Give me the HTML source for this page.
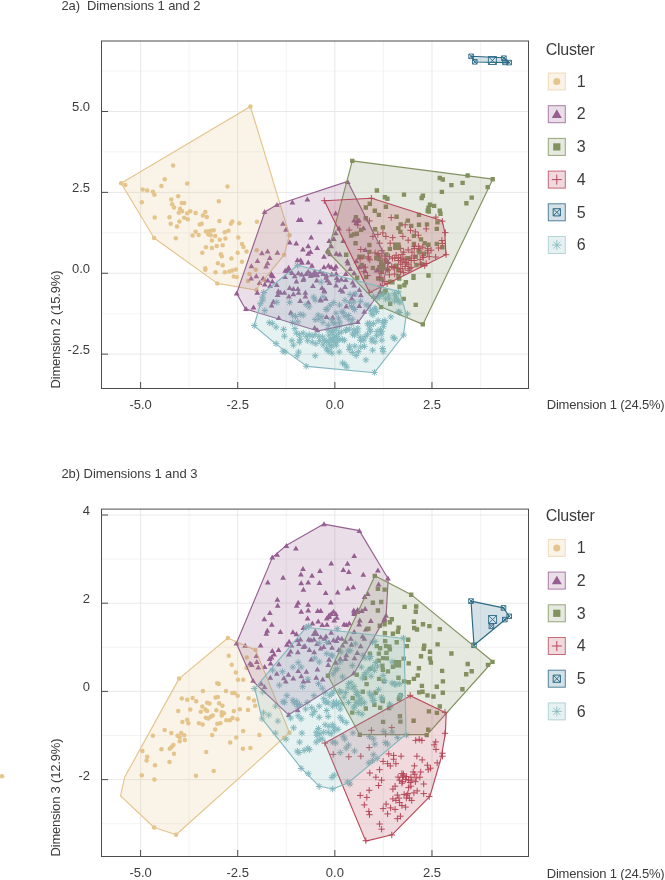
<!DOCTYPE html><html><head><meta charset="utf-8"><title>Clusters</title><style>html,body{margin:0;padding:0;background:#fff}svg{display:block}</style></head><body>
<svg width="665" height="880" viewBox="0 0 665 880">
<style>text{font-family:"Liberation Sans",sans-serif;fill:#3c3c3c}.t13{font-size:13px}.t16{font-size:16px}</style>
<rect width="665" height="880" fill="#fff"/>
<rect x="101.5" y="41.0" width="427.0" height="347.5" fill="#fff"/>
<line x1="189.16" x2="189.16" y1="41.0" y2="388.5" stroke="#f0f0f0" stroke-width="0.8"/>
<line x1="286.29" x2="286.29" y1="41.0" y2="388.5" stroke="#f0f0f0" stroke-width="0.8"/>
<line x1="383.41" x2="383.41" y1="41.0" y2="388.5" stroke="#f0f0f0" stroke-width="0.8"/>
<line x1="480.54" x2="480.54" y1="41.0" y2="388.5" stroke="#f0f0f0" stroke-width="0.8"/>
<line y1="71.06" y2="71.06" x1="101.5" x2="528.5" stroke="#f0f0f0" stroke-width="0.8"/>
<line y1="151.94" y2="151.94" x1="101.5" x2="528.5" stroke="#f0f0f0" stroke-width="0.8"/>
<line y1="232.81" y2="232.81" x1="101.5" x2="528.5" stroke="#f0f0f0" stroke-width="0.8"/>
<line y1="313.69" y2="313.69" x1="101.5" x2="528.5" stroke="#f0f0f0" stroke-width="0.8"/>
<line x1="140.60" x2="140.60" y1="41.0" y2="388.5" stroke="#e8e8e8" stroke-width="1"/>
<line x1="237.73" x2="237.73" y1="41.0" y2="388.5" stroke="#e8e8e8" stroke-width="1"/>
<line x1="334.85" x2="334.85" y1="41.0" y2="388.5" stroke="#e8e8e8" stroke-width="1"/>
<line x1="431.98" x2="431.98" y1="41.0" y2="388.5" stroke="#e8e8e8" stroke-width="1"/>
<line y1="111.50" y2="111.50" x1="101.5" x2="528.5" stroke="#e8e8e8" stroke-width="1"/>
<line y1="192.38" y2="192.38" x1="101.5" x2="528.5" stroke="#e8e8e8" stroke-width="1"/>
<line y1="273.25" y2="273.25" x1="101.5" x2="528.5" stroke="#e8e8e8" stroke-width="1"/>
<line y1="354.12" y2="354.12" x1="101.5" x2="528.5" stroke="#e8e8e8" stroke-width="1"/>
<circle cx="250.4" cy="106.5" r="2.25" fill="#E4C58B"/>
<circle cx="121.1" cy="183.2" r="2.25" fill="#E4C58B"/>
<circle cx="154.1" cy="238.0" r="2.25" fill="#E4C58B"/>
<circle cx="217.3" cy="283.4" r="2.25" fill="#E4C58B"/>
<circle cx="289.5" cy="235.3" r="2.25" fill="#E4C58B"/>
<circle cx="284.1" cy="254.8" r="2.25" fill="#E4C58B"/>
<circle cx="125.3" cy="185.0" r="2.25" fill="#E4C58B"/>
<circle cx="173.1" cy="165.5" r="2.25" fill="#E4C58B"/>
<circle cx="164.7" cy="179.3" r="2.25" fill="#E4C58B"/>
<circle cx="161.4" cy="185.9" r="2.25" fill="#E4C58B"/>
<circle cx="187.2" cy="183.5" r="2.25" fill="#E4C58B"/>
<circle cx="227.5" cy="186.5" r="2.25" fill="#E4C58B"/>
<circle cx="142.7" cy="189.5" r="2.25" fill="#E4C58B"/>
<circle cx="147.2" cy="190.5" r="2.25" fill="#E4C58B"/>
<circle cx="152.9" cy="191.7" r="2.25" fill="#E4C58B"/>
<circle cx="154.4" cy="194.7" r="2.25" fill="#E4C58B"/>
<circle cx="141.8" cy="202.2" r="2.25" fill="#E4C58B"/>
<circle cx="171.3" cy="199.5" r="2.25" fill="#E4C58B"/>
<circle cx="178.2" cy="196.2" r="2.25" fill="#E4C58B"/>
<circle cx="172.2" cy="204.3" r="2.25" fill="#E4C58B"/>
<circle cx="174.0" cy="207.6" r="2.25" fill="#E4C58B"/>
<circle cx="181.8" cy="203.1" r="2.25" fill="#E4C58B"/>
<circle cx="184.2" cy="203.1" r="2.25" fill="#E4C58B"/>
<circle cx="218.8" cy="201.3" r="2.25" fill="#E4C58B"/>
<circle cx="180.0" cy="208.8" r="2.25" fill="#E4C58B"/>
<circle cx="178.8" cy="212.7" r="2.25" fill="#E4C58B"/>
<circle cx="182.1" cy="211.2" r="2.25" fill="#E4C58B"/>
<circle cx="187.2" cy="213.3" r="2.25" fill="#E4C58B"/>
<circle cx="190.2" cy="211.2" r="2.25" fill="#E4C58B"/>
<circle cx="195.6" cy="213.0" r="2.25" fill="#E4C58B"/>
<circle cx="205.3" cy="212.1" r="2.25" fill="#E4C58B"/>
<circle cx="202.9" cy="215.4" r="2.25" fill="#E4C58B"/>
<circle cx="206.8" cy="216.9" r="2.25" fill="#E4C58B"/>
<circle cx="154.7" cy="217.5" r="2.25" fill="#E4C58B"/>
<circle cx="169.5" cy="217.2" r="2.25" fill="#E4C58B"/>
<circle cx="184.2" cy="217.8" r="2.25" fill="#E4C58B"/>
<circle cx="187.8" cy="219.3" r="2.25" fill="#E4C58B"/>
<circle cx="179.4" cy="221.4" r="2.25" fill="#E4C58B"/>
<circle cx="170.7" cy="223.8" r="2.25" fill="#E4C58B"/>
<circle cx="177.0" cy="226.5" r="2.25" fill="#E4C58B"/>
<circle cx="219.4" cy="221.1" r="2.25" fill="#E4C58B"/>
<circle cx="232.3" cy="221.4" r="2.25" fill="#E4C58B"/>
<circle cx="230.8" cy="223.8" r="2.25" fill="#E4C58B"/>
<circle cx="239.2" cy="223.2" r="2.25" fill="#E4C58B"/>
<circle cx="257.0" cy="221.7" r="2.25" fill="#E4C58B"/>
<circle cx="201.7" cy="223.8" r="2.25" fill="#E4C58B"/>
<circle cx="199.8" cy="224.4" r="2.25" fill="#E4C58B"/>
<circle cx="205.9" cy="231.4" r="2.25" fill="#E4C58B"/>
<circle cx="208.3" cy="231.4" r="2.25" fill="#E4C58B"/>
<circle cx="210.7" cy="230.8" r="2.25" fill="#E4C58B"/>
<circle cx="213.7" cy="230.2" r="2.25" fill="#E4C58B"/>
<circle cx="195.6" cy="231.7" r="2.25" fill="#E4C58B"/>
<circle cx="192.6" cy="235.6" r="2.25" fill="#E4C58B"/>
<circle cx="198.6" cy="235.0" r="2.25" fill="#E4C58B"/>
<circle cx="208.3" cy="234.4" r="2.25" fill="#E4C58B"/>
<circle cx="210.7" cy="235.3" r="2.25" fill="#E4C58B"/>
<circle cx="215.2" cy="235.9" r="2.25" fill="#E4C58B"/>
<circle cx="224.8" cy="232.3" r="2.25" fill="#E4C58B"/>
<circle cx="228.4" cy="230.8" r="2.25" fill="#E4C58B"/>
<circle cx="175.8" cy="238.3" r="2.25" fill="#E4C58B"/>
<circle cx="238.3" cy="237.4" r="2.25" fill="#E4C58B"/>
<circle cx="225.4" cy="238.6" r="2.25" fill="#E4C58B"/>
<circle cx="219.7" cy="239.8" r="2.25" fill="#E4C58B"/>
<circle cx="211.9" cy="240.4" r="2.25" fill="#E4C58B"/>
<circle cx="216.7" cy="246.1" r="2.25" fill="#E4C58B"/>
<circle cx="222.7" cy="245.2" r="2.25" fill="#E4C58B"/>
<circle cx="205.9" cy="247.3" r="2.25" fill="#E4C58B"/>
<circle cx="211.9" cy="247.9" r="2.25" fill="#E4C58B"/>
<circle cx="202.3" cy="252.7" r="2.25" fill="#E4C58B"/>
<circle cx="220.9" cy="254.2" r="2.25" fill="#E4C58B"/>
<circle cx="221.8" cy="256.3" r="2.25" fill="#E4C58B"/>
<circle cx="242.0" cy="244.0" r="2.25" fill="#E4C58B"/>
<circle cx="243.5" cy="247.0" r="2.25" fill="#E4C58B"/>
<circle cx="246.5" cy="251.5" r="2.25" fill="#E4C58B"/>
<circle cx="256.7" cy="250.3" r="2.25" fill="#E4C58B"/>
<circle cx="237.7" cy="252.7" r="2.25" fill="#E4C58B"/>
<circle cx="231.4" cy="258.4" r="2.25" fill="#E4C58B"/>
<circle cx="217.9" cy="263.2" r="2.25" fill="#E4C58B"/>
<circle cx="205.3" cy="268.3" r="2.25" fill="#E4C58B"/>
<circle cx="205.3" cy="269.8" r="2.25" fill="#E4C58B"/>
<circle cx="222.7" cy="265.3" r="2.25" fill="#E4C58B"/>
<circle cx="215.5" cy="272.3" r="2.25" fill="#E4C58B"/>
<circle cx="224.8" cy="272.3" r="2.25" fill="#E4C58B"/>
<circle cx="229.3" cy="271.4" r="2.25" fill="#E4C58B"/>
<circle cx="232.3" cy="270.5" r="2.25" fill="#E4C58B"/>
<circle cx="235.9" cy="269.5" r="2.25" fill="#E4C58B"/>
<circle cx="242.0" cy="261.7" r="2.25" fill="#E4C58B"/>
<circle cx="233.8" cy="276.5" r="2.25" fill="#E4C58B"/>
<circle cx="236.8" cy="277.1" r="2.25" fill="#E4C58B"/>
<circle cx="249.5" cy="274.1" r="2.25" fill="#E4C58B"/>
<circle cx="248.0" cy="281.0" r="2.25" fill="#E4C58B"/>
<circle cx="255.8" cy="269.8" r="2.25" fill="#E4C58B"/>
<circle cx="264.2" cy="280.1" r="2.25" fill="#E4C58B"/>
<circle cx="256.4" cy="290.0" r="2.25" fill="#E4C58B"/>
<path d="M261.7,214.0h5.8l-2.9,-5zM274.0,206.9h5.8l-2.9,-5zM289.5,204.4h5.8l-2.9,-5zM304.5,201.6h5.8l-2.9,-5zM280.0,225.7h5.8l-2.9,-5zM295.8,221.9h5.8l-2.9,-5zM298.1,221.9h5.8l-2.9,-5zM316.9,224.2h5.8l-2.9,-5zM283.0,231.7h5.8l-2.9,-5zM308.3,239.5h5.8l-2.9,-5zM286.8,244.5h5.8l-2.9,-5zM293.3,245.6h5.8l-2.9,-5zM305.3,248.3h5.8l-2.9,-5zM300.0,251.6h5.8l-2.9,-5zM314.3,250.1h5.8l-2.9,-5zM259.0,255.3h5.8l-2.9,-5zM264.7,253.5h5.8l-2.9,-5zM274.5,254.7h5.8l-2.9,-5zM307.6,254.0h5.8l-2.9,-5zM305.3,255.8h5.8l-2.9,-5zM321.1,258.8h5.8l-2.9,-5zM266.9,260.0h5.8l-2.9,-5zM254.6,262.9h5.8l-2.9,-5zM264.7,265.3h5.8l-2.9,-5zM263.2,268.6h5.8l-2.9,-5zM248.5,268.3h5.8l-2.9,-5zM294.5,262.3h5.8l-2.9,-5zM297.8,262.3h5.8l-2.9,-5zM299.0,264.8h5.8l-2.9,-5zM305.3,264.4h5.8l-2.9,-5zM309.1,267.8h5.8l-2.9,-5zM285.7,269.8h5.8l-2.9,-5zM282.3,272.8h5.8l-2.9,-5zM286.5,273.1h5.8l-2.9,-5zM295.5,275.3h5.8l-2.9,-5zM291.8,278.3h5.8l-2.9,-5zM268.5,276.1h5.8l-2.9,-5zM270.0,278.3h5.8l-2.9,-5zM260.2,280.6h5.8l-2.9,-5zM253.4,278.3h5.8l-2.9,-5zM248.2,280.6h5.8l-2.9,-5zM300.8,280.6h5.8l-2.9,-5zM305.3,273.8h5.8l-2.9,-5zM307.6,276.1h5.8l-2.9,-5zM311.3,274.6h5.8l-2.9,-5zM314.3,276.8h5.8l-2.9,-5zM317.3,273.8h5.8l-2.9,-5zM320.3,276.1h5.8l-2.9,-5zM323.3,279.8h5.8l-2.9,-5zM325.6,267.8h5.8l-2.9,-5zM321.1,269.3h5.8l-2.9,-5zM326.3,243.0h5.8l-2.9,-5zM324.8,252.8h5.8l-2.9,-5zM344.8,183.9h5.8l-2.9,-5zM332.7,215.5h5.8l-2.9,-5zM351.2,222.4h5.8l-2.9,-5zM354.2,223.0h5.8l-2.9,-5zM356.1,222.4h5.8l-2.9,-5zM353.4,225.0h5.8l-2.9,-5zM360.5,230.2h5.8l-2.9,-5zM336.1,230.5h5.8l-2.9,-5zM332.8,235.2h5.8l-2.9,-5zM340.3,243.0h5.8l-2.9,-5zM330.9,241.0h5.8l-2.9,-5zM328.3,248.3h5.8l-2.9,-5zM333.4,255.8h5.8l-2.9,-5zM336.9,256.5h5.8l-2.9,-5zM362.4,252.0h5.8l-2.9,-5zM344.4,263.3h5.8l-2.9,-5zM345.1,265.6h5.8l-2.9,-5zM328.3,269.3h5.8l-2.9,-5zM333.1,268.6h5.8l-2.9,-5zM331.6,270.8h5.8l-2.9,-5zM328.9,276.5h5.8l-2.9,-5zM342.9,276.1h5.8l-2.9,-5zM351.2,275.3h5.8l-2.9,-5zM353.4,263.3h5.8l-2.9,-5zM375.2,272.3h5.8l-2.9,-5zM385.0,264.1h5.8l-2.9,-5zM356.4,269.3h5.8l-2.9,-5zM347.4,270.9h5.8l-2.9,-5zM333.9,279.9h5.8l-2.9,-5zM338.4,281.4h5.8l-2.9,-5zM342.9,281.9h5.8l-2.9,-5zM349.7,284.4h5.8l-2.9,-5zM351.2,287.4h5.8l-2.9,-5zM333.1,287.4h5.8l-2.9,-5zM342.1,288.9h5.8l-2.9,-5zM337.6,291.9h5.8l-2.9,-5zM356.4,291.9h5.8l-2.9,-5zM351.2,296.5h5.8l-2.9,-5zM357.9,297.2h5.8l-2.9,-5zM348.9,300.5h5.8l-2.9,-5zM343.3,308.5h5.8l-2.9,-5zM356.4,308.0h5.8l-2.9,-5zM361.4,313.8h5.8l-2.9,-5zM329.8,319.8h5.8l-2.9,-5zM354.9,324.0h5.8l-2.9,-5zM360.9,268.6h5.8l-2.9,-5zM362.4,273.2h5.8l-2.9,-5zM373.7,272.4h5.8l-2.9,-5zM327.1,256.3h5.8l-2.9,-5zM243.1,310.9h5.8l-2.9,-5zM250.6,309.4h5.8l-2.9,-5zM275.9,319.9h5.8l-2.9,-5zM287.9,314.7h5.8l-2.9,-5zM314.5,332.3h5.8l-2.9,-5zM311.8,330.0h5.8l-2.9,-5zM323.6,319.0h5.8l-2.9,-5zM268.7,307.4h5.8l-2.9,-5zM270.5,303.7h5.8l-2.9,-5zM274.7,296.9h5.8l-2.9,-5zM275.4,293.2h5.8l-2.9,-5zM277.7,294.7h5.8l-2.9,-5zM281.5,294.7h5.8l-2.9,-5zM254.4,294.7h5.8l-2.9,-5zM261.9,286.4h5.8l-2.9,-5zM264.9,282.6h5.8l-2.9,-5zM269.4,283.4h5.8l-2.9,-5zM268.7,277.4h5.8l-2.9,-5zM267.2,287.9h5.8l-2.9,-5zM286.7,290.1h5.8l-2.9,-5zM290.5,290.9h5.8l-2.9,-5zM295.0,290.9h5.8l-2.9,-5zM295.7,294.7h5.8l-2.9,-5zM290.5,296.2h5.8l-2.9,-5zM286.0,298.4h5.8l-2.9,-5zM293.5,283.4h5.8l-2.9,-5zM300.3,281.9h5.8l-2.9,-5zM302.5,294.7h5.8l-2.9,-5zM302.5,298.4h5.8l-2.9,-5zM297.3,302.9h5.8l-2.9,-5zM305.5,304.4h5.8l-2.9,-5zM310.0,287.9h5.8l-2.9,-5zM313.8,282.6h5.8l-2.9,-5zM319.1,290.1h5.8l-2.9,-5zM321.3,292.4h5.8l-2.9,-5zM324.3,282.6h5.8l-2.9,-5zM326.6,284.9h5.8l-2.9,-5zM317.6,301.4h5.8l-2.9,-5zM322.8,300.7h5.8l-2.9,-5zM289.0,275.1h5.8l-2.9,-5zM298.8,276.6h5.8l-2.9,-5zM303.3,275.9h5.8l-2.9,-5zM307.8,278.1h5.8l-2.9,-5zM323.6,277.4h5.8l-2.9,-5zM333.3,275.9h5.8l-2.9,-5zM334.8,282.6h5.8l-2.9,-5zM284.5,272.9h5.8l-2.9,-5zM282.2,278.9h5.8l-2.9,-5zM273.9,287.1h5.8l-2.9,-5zM256.6,284.9h5.8l-2.9,-5zM317.9,302.6h5.8l-2.9,-5zM339.7,293.6h5.8l-2.9,-5zM321.6,293.6h5.8l-2.9,-5zM377.1,294.1h5.8l-2.9,-5zM233.8,295.5h5.8l-2.9,-5z" fill="#965F91"/>
<path d="M374.7,188.3h4.4v4.4h-4.4zM382.7,195.1h4.4v4.4h-4.4zM385.2,196.6h4.4v4.4h-4.4zM401.8,192.4h4.4v4.4h-4.4zM419.5,195.8h4.4v4.4h-4.4zM420.7,193.6h4.4v4.4h-4.4zM367.6,201.6h4.4v4.4h-4.4zM363.6,205.3h4.4v4.4h-4.4zM383.7,204.6h4.4v4.4h-4.4zM372.6,208.6h4.4v4.4h-4.4zM376.7,212.7h4.4v4.4h-4.4zM426.3,205.6h4.4v4.4h-4.4zM425.5,208.6h4.4v4.4h-4.4zM416.8,212.7h4.4v4.4h-4.4zM353.7,214.9h4.4v4.4h-4.4zM363.6,216.1h4.4v4.4h-4.4zM394.4,214.6h4.4v4.4h-4.4zM405.7,218.4h4.4v4.4h-4.4zM398.5,222.2h4.4v4.4h-4.4zM409.0,223.7h4.4v4.4h-4.4zM416.8,222.5h4.4v4.4h-4.4zM424.8,222.2h4.4v4.4h-4.4zM380.7,225.2h4.4v4.4h-4.4zM396.2,225.9h4.4v4.4h-4.4zM372.9,227.1h4.4v4.4h-4.4zM398.2,229.7h4.4v4.4h-4.4zM348.9,233.4h4.4v4.4h-4.4zM351.9,232.2h4.4v4.4h-4.4zM354.6,231.5h4.4v4.4h-4.4zM358.9,227.7h4.4v4.4h-4.4zM411.7,233.7h4.4v4.4h-4.4zM418.8,237.2h4.4v4.4h-4.4zM353.4,241.0h4.4v4.4h-4.4zM367.2,242.8h4.4v4.4h-4.4zM411.7,241.7h4.4v4.4h-4.4zM422.5,241.0h4.4v4.4h-4.4zM426.3,242.5h4.4v4.4h-4.4zM387.6,246.7h4.4v4.4h-4.4zM416.5,248.5h4.4v4.4h-4.4zM344.0,252.5h4.4v4.4h-4.4zM367.2,249.7h4.4v4.4h-4.4zM421.8,251.5h4.4v4.4h-4.4zM357.1,254.5h4.4v4.4h-4.4zM360.4,254.5h4.4v4.4h-4.4zM413.5,254.5h4.4v4.4h-4.4zM406.0,256.0h4.4v4.4h-4.4zM374.1,256.0h4.4v4.4h-4.4zM378.9,259.8h4.4v4.4h-4.4zM381.2,262.8h4.4v4.4h-4.4zM377.1,265.0h4.4v4.4h-4.4zM370.7,265.8h4.4v4.4h-4.4zM359.7,262.8h4.4v4.4h-4.4zM394.0,263.5h4.4v4.4h-4.4zM396.2,268.0h4.4v4.4h-4.4zM414.3,262.8h4.4v4.4h-4.4zM419.5,262.0h4.4v4.4h-4.4zM383.7,259.0h4.4v4.4h-4.4zM426.3,273.3h4.4v4.4h-4.4zM411.3,274.0h4.4v4.4h-4.4zM379.7,269.5h4.4v4.4h-4.4zM396.2,274.0h4.4v4.4h-4.4zM465.4,173.3h4.4v4.4h-4.4zM490.5,177.0h4.4v4.4h-4.4zM485.5,184.9h4.4v4.4h-4.4zM437.6,175.8h4.4v4.4h-4.4zM440.6,177.3h4.4v4.4h-4.4zM449.2,182.9h4.4v4.4h-4.4zM460.4,180.7h4.4v4.4h-4.4zM439.7,189.7h4.4v4.4h-4.4zM469.5,195.4h4.4v4.4h-4.4zM464.2,201.0h4.4v4.4h-4.4zM427.8,202.5h4.4v4.4h-4.4zM431.9,203.7h4.4v4.4h-4.4zM426.6,209.4h4.4v4.4h-4.4zM437.6,208.6h4.4v4.4h-4.4zM438.3,211.6h4.4v4.4h-4.4zM435.3,220.2h4.4v4.4h-4.4zM434.6,226.7h4.4v4.4h-4.4zM434.6,241.7h4.4v4.4h-4.4zM440.1,245.0h4.4v4.4h-4.4zM376.7,256.8h4.4v4.4h-4.4zM378.9,262.8h4.4v4.4h-4.4zM381.2,265.8h4.4v4.4h-4.4zM375.9,276.4h4.4v4.4h-4.4zM378.9,277.1h4.4v4.4h-4.4zM388.0,279.4h4.4v4.4h-4.4zM390.2,280.1h4.4v4.4h-4.4zM397.0,276.4h4.4v4.4h-4.4zM363.9,274.9h4.4v4.4h-4.4zM354.9,275.6h4.4v4.4h-4.4zM397.4,284.6h4.4v4.4h-4.4zM403.7,280.1h4.4v4.4h-4.4zM402.2,283.1h4.4v4.4h-4.4zM411.3,275.6h4.4v4.4h-4.4zM417.3,250.1h4.4v4.4h-4.4zM383.4,288.4h4.4v4.4h-4.4zM379.7,291.4h4.4v4.4h-4.4zM401.5,296.7h4.4v4.4h-4.4zM388.0,301.5h4.4v4.4h-4.4zM413.5,302.7h4.4v4.4h-4.4zM378.9,304.9h4.4v4.4h-4.4zM420.6,322.2h4.4v4.4h-4.4zM384.2,252.3h4.4v4.4h-4.4zM385.7,267.3h4.4v4.4h-4.4zM375.9,253.1h4.4v4.4h-4.4zM382.5,289.6h4.4v4.4h-4.4zM350.1,158.7h4.4v4.4h-4.4zM325.8,250.0h4.4v4.4h-4.4z" fill="#82925F"/>
<path d="M368.2,198.3h6.4M371.4,195.1v6.4M388.0,217.6h6.4M391.2,214.4v6.4M366.2,220.9h6.4M369.4,217.7v6.4M346.0,230.1h6.4M349.2,226.9v6.4M354.6,225.1h6.4M357.8,221.9v6.4M402.0,224.8h6.4M405.2,221.6v6.4M407.3,230.4h6.4M410.5,227.2v6.4M412.1,231.9h6.4M415.3,228.7v6.4M423.0,228.9h6.4M426.2,225.7v6.4M379.7,232.9h6.4M382.9,229.7v6.4M382.7,236.4h6.4M385.9,233.2v6.4M369.7,236.4h6.4M372.9,233.2v6.4M374.6,234.4h6.4M377.8,231.2v6.4M389.5,237.6h6.4M392.7,234.4v6.4M399.7,236.4h6.4M402.9,233.2v6.4M405.0,240.2h6.4M408.2,237.0v6.4M387.0,243.2h6.4M390.2,240.0v6.4M357.6,249.5h6.4M360.8,246.3v6.4M376.4,243.2h6.4M379.6,240.0v6.4M371.9,252.9h6.4M375.1,249.7v6.4M365.1,258.2h6.4M368.3,255.0v6.4M397.5,248.4h6.4M400.7,245.2v6.4M400.5,252.2h6.4M403.7,249.0v6.4M405.0,249.9h6.4M408.2,246.7v6.4M408.8,252.2h6.4M412.0,249.0v6.4M393.0,255.2h6.4M396.2,252.0v6.4M395.2,257.4h6.4M398.4,254.2v6.4M397.5,258.2h6.4M400.7,255.0v6.4M391.5,258.2h6.4M394.7,255.0v6.4M389.2,258.2h6.4M392.4,255.0v6.4M400.5,259.7h6.4M403.7,256.5v6.4M402.0,262.7h6.4M405.2,259.5v6.4M405.0,264.2h6.4M408.2,261.0v6.4M408.0,258.2h6.4M411.2,255.0v6.4M411.0,260.5h6.4M414.2,257.3v6.4M417.0,259.7h6.4M420.2,256.5v6.4M421.5,265.7h6.4M424.7,262.5v6.4M388.5,266.5h6.4M391.7,263.3v6.4M391.5,268.0h6.4M394.7,264.8v6.4M384.7,270.2h6.4M387.9,267.0v6.4M362.1,267.2h6.4M365.3,264.0v6.4M360.6,271.7h6.4M363.8,268.5v6.4M364.4,275.5h6.4M367.6,272.3v6.4M377.9,273.2h6.4M381.1,270.0v6.4M397.5,264.2h6.4M400.7,261.0v6.4M399.0,268.7h6.4M402.2,265.5v6.4M406.5,268.7h6.4M409.7,265.5v6.4M411.0,248.4h6.4M414.2,245.2v6.4M415.5,246.2h6.4M418.7,243.0v6.4M424.5,250.7h6.4M427.7,247.5v6.4M426.0,256.7h6.4M429.2,253.5v6.4M419.3,255.9h6.4M422.5,252.7v6.4M378.7,250.7h6.4M381.9,247.5v6.4M374.9,253.7h6.4M378.1,250.5v6.4M432.7,217.1h6.4M435.9,213.9v6.4M439.1,221.2h6.4M442.3,218.0v6.4M442.1,232.6h6.4M445.3,229.4v6.4M415.1,235.2h6.4M418.3,232.0v6.4M438.7,240.5h6.4M441.9,237.3v6.4M439.1,243.5h6.4M442.3,240.3v6.4M435.4,248.0h6.4M438.6,244.8v6.4M424.5,248.7h6.4M427.7,245.5v6.4M427.9,250.2h6.4M431.1,247.0v6.4M442.9,254.7h6.4M446.1,251.5v6.4M432.4,257.0h6.4M435.6,253.8v6.4M411.3,246.5h6.4M414.5,243.3v6.4M415.8,248.7h6.4M419.0,245.5v6.4M419.6,247.2h6.4M422.8,244.0v6.4M356.9,259.0h6.4M360.1,255.8v6.4M365.1,256.8h6.4M368.3,253.6v6.4M366.6,259.8h6.4M369.8,256.6v6.4M386.2,256.8h6.4M389.4,253.6v6.4M399.0,254.5h6.4M402.2,251.3v6.4M402.0,259.0h6.4M405.2,255.8v6.4M395.2,260.5h6.4M398.4,257.3v6.4M399.0,262.0h6.4M402.2,258.8v6.4M403.5,262.8h6.4M406.7,259.6v6.4M408.0,260.5h6.4M411.2,257.3v6.4M390.0,267.3h6.4M393.2,264.1v6.4M394.5,268.0h6.4M397.7,264.8v6.4M397.5,271.8h6.4M400.7,268.6v6.4M400.5,272.6h6.4M403.7,269.4v6.4M391.5,274.1h6.4M394.7,270.9v6.4M386.2,274.8h6.4M389.4,271.6v6.4M381.7,281.6h6.4M384.9,278.4v6.4M383.9,283.8h6.4M387.1,280.6v6.4M377.2,286.1h6.4M380.4,282.9v6.4M376.4,277.1h6.4M379.6,273.9v6.4M411.0,256.0h6.4M414.2,252.8v6.4M420.0,257.5h6.4M423.2,254.3v6.4M424.5,253.0h6.4M427.7,249.8v6.4M423.0,263.5h6.4M426.2,260.3v6.4M417.8,264.3h6.4M421.0,261.1v6.4M408.0,267.3h6.4M411.2,264.1v6.4M405.0,270.3h6.4M408.2,267.1v6.4M402.0,266.5h6.4M405.2,263.3v6.4M384.7,262.8h6.4M387.9,259.6v6.4M381.7,259.0h6.4M384.9,255.8v6.4M378.7,256.0h6.4M381.9,252.8v6.4M321.1,200.7h6.4M324.3,197.5v6.4M366.4,292.5h6.4M369.6,289.3v6.4" stroke="#B84759" stroke-width="1" fill="none"/>
<path d="M468.8,54.0h4.6v4.6h-4.6zM468.8,54.0l4.6,4.6M468.8,58.6l4.6,-4.6" stroke="#2A6985" stroke-width="0.9" fill="none"/>
<path d="M472.5,59.5h4.6v4.6h-4.6zM472.5,59.5l4.6,4.6M472.5,64.1l4.6,-4.6" stroke="#2A6985" stroke-width="0.9" fill="none"/>
<path d="M488.4,56.5h8.0v8.0h-8.0zM488.4,56.5l8.0,8.0M488.4,64.5l8.0,-8.0" stroke="#2A6985" stroke-width="0.9" fill="none"/>
<path d="M501.6,55.9h4.6v4.6h-4.6zM501.6,55.9l4.6,4.6M501.6,60.5l4.6,-4.6" stroke="#2A6985" stroke-width="0.9" fill="none"/>
<path d="M502.7,60.1h4.6v4.6h-4.6zM502.7,60.1l4.6,4.6M502.7,64.7l4.6,-4.6" stroke="#2A6985" stroke-width="0.9" fill="none"/>
<path d="M506.9,60.3h4.6v4.6h-4.6zM506.9,60.3l4.6,4.6M506.9,64.9l4.6,-4.6" stroke="#2A6985" stroke-width="0.9" fill="none"/>
<path d="M330.5,302.6h6.6M333.8,299.3v6.6M331.4,300.3l4.7,4.7M331.4,305.0l4.7,-4.7M341.7,300.4h6.6M345.0,297.1v6.6M342.7,298.0l4.7,4.7M342.7,302.7l4.7,-4.7M346.2,302.6h6.6M349.5,299.3v6.6M347.2,300.3l4.7,4.7M347.2,305.0l4.7,-4.7M350.8,301.9h6.6M354.1,298.6v6.6M351.7,299.5l4.7,4.7M351.7,304.2l4.7,-4.7M350.0,307.9h6.6M353.3,304.6v6.6M351.0,305.5l4.7,4.7M351.0,310.2l4.7,-4.7M338.7,311.7h6.6M342.0,308.4v6.6M339.7,309.3l4.7,4.7M339.7,314.0l4.7,-4.7M341.7,316.2h6.6M345.0,312.9v6.6M342.7,313.8l4.7,4.7M342.7,318.5l4.7,-4.7M332.7,313.2h6.6M336.0,309.9v6.6M333.7,310.8l4.7,4.7M333.7,315.5l4.7,-4.7M345.5,319.2h6.6M348.8,315.9v6.6M346.4,316.8l4.7,4.7M346.4,321.5l4.7,-4.7M336.5,322.2h6.6M339.8,318.9v6.6M337.4,319.8l4.7,4.7M337.4,324.5l4.7,-4.7M348.5,323.7h6.6M351.8,320.4v6.6M349.5,321.3l4.7,4.7M349.5,326.0l4.7,-4.7M362.8,304.9h6.6M366.1,301.6v6.6M363.7,302.5l4.7,4.7M363.7,307.2l4.7,-4.7M367.3,310.2h6.6M370.6,306.9v6.6M368.3,307.8l4.7,4.7M368.3,312.5l4.7,-4.7M371.8,307.9h6.6M375.1,304.6v6.6M372.8,305.5l4.7,4.7M372.8,310.2l4.7,-4.7M369.6,314.7h6.6M372.9,311.4v6.6M370.5,312.3l4.7,4.7M370.5,317.0l4.7,-4.7M373.3,311.7h6.6M376.6,308.4v6.6M374.3,309.3l4.7,4.7M374.3,314.0l4.7,-4.7M364.3,323.7h6.6M367.6,320.4v6.6M365.2,321.3l4.7,4.7M365.2,326.0l4.7,-4.7M366.5,325.9h6.6M369.8,322.6v6.6M367.5,323.6l4.7,4.7M367.5,328.3l4.7,-4.7M370.3,323.7h6.6M373.6,320.4v6.6M371.3,321.3l4.7,4.7M371.3,326.0l4.7,-4.7M374.8,320.7h6.6M378.1,317.4v6.6M375.8,318.3l4.7,4.7M375.8,323.0l4.7,-4.7M379.3,322.2h6.6M382.6,318.9v6.6M380.3,319.8l4.7,4.7M380.3,324.5l4.7,-4.7M381.6,320.7h6.6M384.9,317.4v6.6M382.5,318.3l4.7,4.7M382.5,323.0l4.7,-4.7M380.1,326.7h6.6M383.4,323.4v6.6M381.0,324.3l4.7,4.7M381.0,329.0l4.7,-4.7M377.1,329.7h6.6M380.4,326.4v6.6M378.0,327.3l4.7,4.7M378.0,332.0l4.7,-4.7M367.3,331.2h6.6M370.6,327.9v6.6M368.3,328.9l4.7,4.7M368.3,333.6l4.7,-4.7M364.3,334.2h6.6M367.6,330.9v6.6M365.2,331.9l4.7,4.7M365.2,336.6l4.7,-4.7M368.8,338.7h6.6M372.1,335.4v6.6M369.8,336.4l4.7,4.7M369.8,341.1l4.7,-4.7M373.3,335.7h6.6M376.6,332.4v6.6M374.3,333.4l4.7,4.7M374.3,338.1l4.7,-4.7M377.8,334.2h6.6M381.1,330.9v6.6M378.8,331.9l4.7,4.7M378.8,336.6l4.7,-4.7M378.6,340.2h6.6M381.9,336.9v6.6M379.5,337.9l4.7,4.7M379.5,342.6l4.7,-4.7M371.8,341.7h6.6M375.1,338.4v6.6M372.8,339.4l4.7,4.7M372.8,344.1l4.7,-4.7M360.5,340.2h6.6M363.8,336.9v6.6M361.5,337.9l4.7,4.7M361.5,342.6l4.7,-4.7M356.8,337.2h6.6M360.1,333.9v6.6M357.7,334.9l4.7,4.7M357.7,339.6l4.7,-4.7M352.3,332.0h6.6M355.6,328.7v6.6M353.2,329.6l4.7,4.7M353.2,334.3l4.7,-4.7M354.5,328.2h6.6M357.8,324.9v6.6M355.5,325.8l4.7,4.7M355.5,330.5l4.7,-4.7M349.3,334.2h6.6M352.6,330.9v6.6M350.2,331.9l4.7,4.7M350.2,336.6l4.7,-4.7M343.2,329.7h6.6M346.5,326.4v6.6M344.2,327.3l4.7,4.7M344.2,332.0l4.7,-4.7M338.0,332.0h6.6M341.3,328.7v6.6M338.9,329.6l4.7,4.7M338.9,334.3l4.7,-4.7M332.7,328.9h6.6M336.0,325.6v6.6M333.7,326.6l4.7,4.7M333.7,331.3l4.7,-4.7M329.7,334.2h6.6M333.0,330.9v6.6M330.7,331.9l4.7,4.7M330.7,336.6l4.7,-4.7M335.7,338.7h6.6M339.0,335.4v6.6M336.7,336.4l4.7,4.7M336.7,341.1l4.7,-4.7M341.0,340.2h6.6M344.3,336.9v6.6M341.9,337.9l4.7,4.7M341.9,342.6l4.7,-4.7M329.7,341.7h6.6M333.0,338.4v6.6M330.7,339.4l4.7,4.7M330.7,344.1l4.7,-4.7M346.2,346.2h6.6M349.5,342.9v6.6M347.2,343.9l4.7,4.7M347.2,348.6l4.7,-4.7M351.5,346.2h6.6M354.8,342.9v6.6M352.5,343.9l4.7,4.7M352.5,348.6l4.7,-4.7M357.5,347.0h6.6M360.8,343.7v6.6M358.5,344.6l4.7,4.7M358.5,349.3l4.7,-4.7M379.3,348.5h6.6M382.6,345.2v6.6M380.3,346.1l4.7,4.7M380.3,350.8l4.7,-4.7M387.6,316.9h6.6M390.9,313.6v6.6M388.6,314.6l4.7,4.7M388.6,319.3l4.7,-4.7M395.1,311.7h6.6M398.4,308.4v6.6M396.1,309.3l4.7,4.7M396.1,314.0l4.7,-4.7M404.1,313.9h6.6M407.4,310.6v6.6M405.1,311.6l4.7,4.7M405.1,316.3l4.7,-4.7M391.4,301.1h6.6M394.7,297.8v6.6M392.3,298.8l4.7,4.7M392.3,303.5l4.7,-4.7M385.3,295.1h6.6M388.6,291.8v6.6M386.3,292.8l4.7,4.7M386.3,297.5l4.7,-4.7M391.4,293.6h6.6M394.7,290.3v6.6M392.3,291.3l4.7,4.7M392.3,296.0l4.7,-4.7M395.1,292.1h6.6M398.4,288.8v6.6M396.1,289.8l4.7,4.7M396.1,294.5l4.7,-4.7M392.9,298.1h6.6M396.2,294.8v6.6M393.8,295.8l4.7,4.7M393.8,300.5l4.7,-4.7M382.3,298.9h6.6M385.6,295.6v6.6M383.3,296.5l4.7,4.7M383.3,301.2l4.7,-4.7M389.9,337.2h6.6M393.2,333.9v6.6M390.8,334.9l4.7,4.7M390.8,339.6l4.7,-4.7M391.4,338.7h6.6M394.7,335.4v6.6M392.3,336.4l4.7,4.7M392.3,341.1l4.7,-4.7M400.4,335.0h6.6M403.7,331.7v6.6M401.3,332.6l4.7,4.7M401.3,337.3l4.7,-4.7M396.6,302.6h6.6M399.9,299.3v6.6M397.6,300.3l4.7,4.7M397.6,305.0l4.7,-4.7M376.3,296.6h6.6M379.6,293.3v6.6M377.3,294.3l4.7,4.7M377.3,299.0l4.7,-4.7M370.3,296.6h6.6M373.6,293.3v6.6M371.3,294.3l4.7,4.7M371.3,299.0l4.7,-4.7M251.0,325.6h6.6M254.3,322.3v6.6M251.9,323.3l4.7,4.7M251.9,328.0l4.7,-4.7M259.3,297.1h6.6M262.6,293.8v6.6M260.2,294.7l4.7,4.7M260.2,299.4l4.7,-4.7M261.5,310.6h6.6M264.8,307.3v6.6M262.5,308.3l4.7,4.7M262.5,313.0l4.7,-4.7M259.3,300.1h6.6M262.6,296.8v6.6M260.2,297.7l4.7,4.7M260.2,302.4l4.7,-4.7M273.5,302.3h6.6M276.8,299.0v6.6M274.5,300.0l4.7,4.7M274.5,304.7l4.7,-4.7M266.0,322.6h6.6M269.3,319.3v6.6M267.0,320.3l4.7,4.7M267.0,325.0l4.7,-4.7M269.0,323.4h6.6M272.3,320.1v6.6M270.0,321.0l4.7,4.7M270.0,325.7l4.7,-4.7M272.8,327.1h6.6M276.1,323.8v6.6M273.7,324.8l4.7,4.7M273.7,329.5l4.7,-4.7M280.3,329.4h6.6M283.6,326.1v6.6M281.3,327.0l4.7,4.7M281.3,331.7l4.7,-4.7M281.1,336.2h6.6M284.4,332.9v6.6M282.0,333.8l4.7,4.7M282.0,338.5l4.7,-4.7M272.8,343.7h6.6M276.1,340.4v6.6M273.7,341.3l4.7,4.7M273.7,346.0l4.7,-4.7M279.6,351.2h6.6M282.9,347.9v6.6M280.5,348.9l4.7,4.7M280.5,353.6l4.7,-4.7M281.8,352.0h6.6M285.1,348.7v6.6M282.8,349.6l4.7,4.7M282.8,354.3l4.7,-4.7M286.3,302.3h6.6M289.6,299.0v6.6M287.3,300.0l4.7,4.7M287.3,304.7l4.7,-4.7M289.3,315.1h6.6M292.6,311.8v6.6M290.3,312.8l4.7,4.7M290.3,317.5l4.7,-4.7M292.3,316.6h6.6M295.6,313.3v6.6M293.3,314.3l4.7,4.7M293.3,319.0l4.7,-4.7M296.9,314.4h6.6M300.2,311.1v6.6M297.8,312.0l4.7,4.7M297.8,316.7l4.7,-4.7M299.9,315.1h6.6M303.2,311.8v6.6M300.8,312.8l4.7,4.7M300.8,317.5l4.7,-4.7M302.9,304.6h6.6M306.2,301.3v6.6M303.8,302.2l4.7,4.7M303.8,306.9l4.7,-4.7M305.9,306.8h6.6M309.2,303.5v6.6M306.8,304.5l4.7,4.7M306.8,309.2l4.7,-4.7M310.4,297.1h6.6M313.7,293.8v6.6M311.3,294.7l4.7,4.7M311.3,299.4l4.7,-4.7M311.9,300.1h6.6M315.2,296.8v6.6M312.8,297.7l4.7,4.7M312.8,302.4l4.7,-4.7M314.9,315.1h6.6M318.2,311.8v6.6M315.8,312.8l4.7,4.7M315.8,317.5l4.7,-4.7M311.9,319.6h6.6M315.2,316.3v6.6M312.8,317.3l4.7,4.7M312.8,322.0l4.7,-4.7M315.6,318.9h6.6M318.9,315.6v6.6M316.6,316.5l4.7,4.7M316.6,321.2l4.7,-4.7M318.7,316.6h6.6M322.0,313.3v6.6M319.6,314.3l4.7,4.7M319.6,319.0l4.7,-4.7M323.9,309.1h6.6M327.2,305.8v6.6M324.9,306.7l4.7,4.7M324.9,311.4l4.7,-4.7M326.9,305.3h6.6M330.2,302.0v6.6M327.9,303.0l4.7,4.7M327.9,307.7l4.7,-4.7M335.2,318.1h6.6M338.5,314.8v6.6M336.1,315.8l4.7,4.7M336.1,320.5l4.7,-4.7M329.9,322.6h6.6M333.2,319.3v6.6M330.9,320.3l4.7,4.7M330.9,325.0l4.7,-4.7M294.6,321.9h6.6M297.9,318.6v6.6M295.5,319.5l4.7,4.7M295.5,324.2l4.7,-4.7M291.6,328.6h6.6M294.9,325.3v6.6M292.5,326.3l4.7,4.7M292.5,331.0l4.7,-4.7M293.1,333.2h6.6M296.4,329.9v6.6M294.0,330.8l4.7,4.7M294.0,335.5l4.7,-4.7M296.1,334.7h6.6M299.4,331.4v6.6M297.0,332.3l4.7,4.7M297.0,337.0l4.7,-4.7M299.9,333.2h6.6M303.2,329.9v6.6M300.8,330.8l4.7,4.7M300.8,335.5l4.7,-4.7M296.9,339.2h6.6M300.2,335.9v6.6M297.8,336.8l4.7,4.7M297.8,341.5l4.7,-4.7M288.6,340.7h6.6M291.9,337.4v6.6M289.5,338.3l4.7,4.7M289.5,343.0l4.7,-4.7M290.1,345.2h6.6M293.4,341.9v6.6M291.0,342.8l4.7,4.7M291.0,347.5l4.7,-4.7M296.1,342.2h6.6M299.4,338.9v6.6M297.0,339.8l4.7,4.7M297.0,344.5l4.7,-4.7M302.9,336.2h6.6M306.2,332.9v6.6M303.8,333.8l4.7,4.7M303.8,338.5l4.7,-4.7M305.9,334.7h6.6M309.2,331.4v6.6M306.8,332.3l4.7,4.7M306.8,337.0l4.7,-4.7M308.9,336.2h6.6M312.2,332.9v6.6M309.8,333.8l4.7,4.7M309.8,338.5l4.7,-4.7M311.9,334.7h6.6M315.2,331.4v6.6M312.8,332.3l4.7,4.7M312.8,337.0l4.7,-4.7M315.6,336.2h6.6M318.9,332.9v6.6M316.6,333.8l4.7,4.7M316.6,338.5l4.7,-4.7M319.4,336.9h6.6M322.7,333.6v6.6M320.4,334.6l4.7,4.7M320.4,339.3l4.7,-4.7M304.4,340.7h6.6M307.7,337.4v6.6M305.3,338.3l4.7,4.7M305.3,343.0l4.7,-4.7M308.9,342.2h6.6M312.2,338.9v6.6M309.8,339.8l4.7,4.7M309.8,344.5l4.7,-4.7M312.6,343.7h6.6M315.9,340.4v6.6M313.6,341.3l4.7,4.7M313.6,346.0l4.7,-4.7M316.4,340.7h6.6M319.7,337.4v6.6M317.3,338.3l4.7,4.7M317.3,343.0l4.7,-4.7M320.9,340.7h6.6M324.2,337.4v6.6M321.9,338.3l4.7,4.7M321.9,343.0l4.7,-4.7M324.7,342.2h6.6M328.0,338.9v6.6M325.6,339.8l4.7,4.7M325.6,344.5l4.7,-4.7M326.9,339.2h6.6M330.2,335.9v6.6M327.9,336.8l4.7,4.7M327.9,341.5l4.7,-4.7M330.7,337.7h6.6M334.0,334.4v6.6M331.6,335.3l4.7,4.7M331.6,340.0l4.7,-4.7M334.4,340.7h6.6M337.7,337.4v6.6M335.4,338.3l4.7,4.7M335.4,343.0l4.7,-4.7M332.9,345.2h6.6M336.2,341.9v6.6M333.9,342.8l4.7,4.7M333.9,347.5l4.7,-4.7M328.4,346.7h6.6M331.7,343.4v6.6M329.4,344.3l4.7,4.7M329.4,349.0l4.7,-4.7M323.2,348.2h6.6M326.5,344.9v6.6M324.1,345.8l4.7,4.7M324.1,350.5l4.7,-4.7M325.4,351.2h6.6M328.7,347.9v6.6M326.4,348.9l4.7,4.7M326.4,353.6l4.7,-4.7M311.9,355.7h6.6M315.2,352.4v6.6M312.8,353.4l4.7,4.7M312.8,358.1l4.7,-4.7M295.3,352.0h6.6M298.6,348.7v6.6M296.3,349.6l4.7,4.7M296.3,354.3l4.7,-4.7M293.8,355.7h6.6M297.1,352.4v6.6M294.8,353.4l4.7,4.7M294.8,358.1l4.7,-4.7M302.9,366.2h6.6M306.2,362.9v6.6M303.8,363.9l4.7,4.7M303.8,368.6l4.7,-4.7M317.9,282.0h6.6M321.2,278.7v6.6M318.9,279.7l4.7,4.7M318.9,284.4l4.7,-4.7M257.0,303.8h6.6M260.3,300.5v6.6M258.0,301.5l4.7,4.7M258.0,306.2l4.7,-4.7M335.9,352.0h6.6M339.2,348.7v6.6M336.9,349.6l4.7,4.7M336.9,354.3l4.7,-4.7M335.2,333.2h6.6M338.5,329.9v6.6M336.1,330.8l4.7,4.7M336.1,335.5l4.7,-4.7M327.7,330.9h6.6M331.0,327.6v6.6M328.6,328.6l4.7,4.7M328.6,333.3l4.7,-4.7M324.7,330.2h6.6M328.0,326.9v6.6M325.6,327.8l4.7,4.7M325.6,332.5l4.7,-4.7M289.3,322.6h6.6M292.6,319.3v6.6M290.3,320.3l4.7,4.7M290.3,325.0l4.7,-4.7M371.1,372.4h6.6M374.4,369.1v6.6M372.1,370.1l4.7,4.7M372.1,374.8l4.7,-4.7M381.4,322.3h6.6M384.7,319.0v6.6M382.3,320.0l4.7,4.7M382.3,324.7l4.7,-4.7M378.4,331.4h6.6M381.7,328.1v6.6M379.3,329.0l4.7,4.7M379.3,333.7l4.7,-4.7M373.8,331.4h6.6M377.1,328.1v6.6M374.8,329.0l4.7,4.7M374.8,333.7l4.7,-4.7M366.3,323.1h6.6M369.6,319.8v6.6M367.3,320.7l4.7,4.7M367.3,325.4l4.7,-4.7M366.3,329.1h6.6M369.6,325.8v6.6M367.3,326.7l4.7,4.7M367.3,331.4l4.7,-4.7M368.6,341.1h6.6M371.9,337.8v6.6M369.5,338.8l4.7,4.7M369.5,343.5l4.7,-4.7M361.8,336.6h6.6M365.1,333.3v6.6M362.8,334.3l4.7,4.7M362.8,339.0l4.7,-4.7M357.3,340.4h6.6M360.6,337.1v6.6M358.3,338.0l4.7,4.7M358.3,342.7l4.7,-4.7M354.3,332.1h6.6M357.6,328.8v6.6M355.2,329.8l4.7,4.7M355.2,334.5l4.7,-4.7M350.5,329.8h6.6M353.8,326.5v6.6M351.5,327.5l4.7,4.7M351.5,332.2l4.7,-4.7M351.3,335.1h6.6M354.6,331.8v6.6M352.2,332.8l4.7,4.7M352.2,337.5l4.7,-4.7M361.1,346.4h6.6M364.4,343.1v6.6M362.0,344.0l4.7,4.7M362.0,348.7l4.7,-4.7M369.3,350.2h6.6M372.6,346.9v6.6M370.3,347.8l4.7,4.7M370.3,352.5l4.7,-4.7M379.9,351.7h6.6M383.2,348.4v6.6M380.8,349.3l4.7,4.7M380.8,354.0l4.7,-4.7M355.0,351.7h6.6M358.3,348.4v6.6M356.0,349.3l4.7,4.7M356.0,354.0l4.7,-4.7M352.8,355.4h6.6M356.1,352.1v6.6M353.7,353.1l4.7,4.7M353.7,357.8l4.7,-4.7M349.0,352.4h6.6M352.3,349.1v6.6M350.0,350.1l4.7,4.7M350.0,354.8l4.7,-4.7M346.0,349.4h6.6M349.3,346.1v6.6M347.0,347.0l4.7,4.7M347.0,351.7l4.7,-4.7M339.3,362.9h6.6M342.6,359.6v6.6M340.2,360.6l4.7,4.7M340.2,365.3l4.7,-4.7M341.5,364.4h6.6M344.8,361.1v6.6M342.5,362.1l4.7,4.7M342.5,366.8l4.7,-4.7M343.5,367.0h6.6M346.8,363.7v6.6M344.4,364.6l4.7,4.7M344.4,369.3l4.7,-4.7M362.6,359.9h6.6M365.9,356.6v6.6M363.5,357.6l4.7,4.7M363.5,362.3l4.7,-4.7M328.7,353.2h6.6M332.0,349.9v6.6M329.7,350.8l4.7,4.7M329.7,355.5l4.7,-4.7M324.2,350.2h6.6M327.5,346.9v6.6M325.2,347.8l4.7,4.7M325.2,352.5l4.7,-4.7M326.5,344.9h6.6M329.8,341.6v6.6M327.4,342.5l4.7,4.7M327.4,347.2l4.7,-4.7M322.7,341.1h6.6M326.0,337.8v6.6M323.7,338.8l4.7,4.7M323.7,343.5l4.7,-4.7M328.7,339.6h6.6M332.0,336.3v6.6M329.7,337.3l4.7,4.7M329.7,342.0l4.7,-4.7M319.7,344.9h6.6M323.0,341.6v6.6M320.7,342.5l4.7,4.7M320.7,347.2l4.7,-4.7M331.7,342.6h6.6M335.0,339.3v6.6M332.7,340.3l4.7,4.7M332.7,345.0l4.7,-4.7M333.2,336.6h6.6M336.5,333.3v6.6M334.2,334.3l4.7,4.7M334.2,339.0l4.7,-4.7M339.3,339.6h6.6M342.6,336.3v6.6M340.2,337.3l4.7,4.7M340.2,342.0l4.7,-4.7M325.7,335.1h6.6M329.0,331.8v6.6M326.7,332.8l4.7,4.7M326.7,337.5l4.7,-4.7M330.2,330.6h6.6M333.5,327.3v6.6M331.2,328.3l4.7,4.7M331.2,333.0l4.7,-4.7M342.3,330.6h6.6M345.6,327.3v6.6M343.2,328.3l4.7,4.7M343.2,333.0l4.7,-4.7M346.0,329.1h6.6M349.3,325.8v6.6M347.0,326.7l4.7,4.7M347.0,331.4l4.7,-4.7M336.2,326.1h6.6M339.5,322.8v6.6M337.2,323.7l4.7,4.7M337.2,328.4l4.7,-4.7M331.7,323.8h6.6M335.0,320.5v6.6M332.7,321.5l4.7,4.7M332.7,326.2l4.7,-4.7M325.0,325.3h6.6M328.3,322.0v6.6M325.9,323.0l4.7,4.7M325.9,327.7l4.7,-4.7M319.7,322.3h6.6M323.0,319.0v6.6M320.7,320.0l4.7,4.7M320.7,324.7l4.7,-4.7M328.0,319.3h6.6M331.3,316.0v6.6M328.9,317.0l4.7,4.7M328.9,321.7l4.7,-4.7M340.0,312.6h6.6M343.3,309.3v6.6M341.0,310.2l4.7,4.7M341.0,314.9l4.7,-4.7M345.3,315.6h6.6M348.6,312.3v6.6M346.2,313.2l4.7,4.7M346.2,317.9l4.7,-4.7M349.0,319.3h6.6M352.3,316.0v6.6M350.0,317.0l4.7,4.7M350.0,321.7l4.7,-4.7M322.7,309.5h6.6M326.0,306.2v6.6M323.7,307.2l4.7,4.7M323.7,311.9l4.7,-4.7M336.2,305.0h6.6M339.5,301.7v6.6M337.2,302.7l4.7,4.7M337.2,307.4l4.7,-4.7M348.3,306.5h6.6M351.6,303.2v6.6M349.2,304.2l4.7,4.7M349.2,308.9l4.7,-4.7M351.3,309.5h6.6M354.6,306.2v6.6M352.2,307.2l4.7,4.7M352.2,311.9l4.7,-4.7M357.3,301.3h6.6M360.6,298.0v6.6M358.3,298.9l4.7,4.7M358.3,303.6l4.7,-4.7M368.6,313.3h6.6M371.9,310.0v6.6M369.5,311.0l4.7,4.7M369.5,315.7l4.7,-4.7M371.6,309.5h6.6M374.9,306.2v6.6M372.5,307.2l4.7,4.7M372.5,311.9l4.7,-4.7M365.6,305.8h6.6M368.9,302.5v6.6M366.5,303.4l4.7,4.7M366.5,308.1l4.7,-4.7M385.9,299.0h6.6M389.2,295.7v6.6M386.8,296.7l4.7,4.7M386.8,301.4l4.7,-4.7M391.9,296.0h6.6M395.2,292.7v6.6M392.8,293.7l4.7,4.7M392.8,298.4l4.7,-4.7M394.9,300.5h6.6M398.2,297.2v6.6M395.8,298.2l4.7,4.7M395.8,302.9l4.7,-4.7M396.4,312.6h6.6M399.7,309.3v6.6M397.3,310.2l4.7,4.7M397.3,314.9l4.7,-4.7M379.9,294.5h6.6M383.2,291.2v6.6M380.8,292.2l4.7,4.7M380.8,296.9l4.7,-4.7M373.8,298.3h6.6M377.1,295.0v6.6M374.8,295.9l4.7,4.7M374.8,300.6l4.7,-4.7M319.7,296.8h6.6M323.0,293.5v6.6M320.7,294.4l4.7,4.7M320.7,299.1l4.7,-4.7M346.8,294.5h6.6M350.1,291.2v6.6M347.7,292.2l4.7,4.7M347.7,296.9l4.7,-4.7M352.0,293.8h6.6M355.3,290.5v6.6M353.0,291.4l4.7,4.7M353.0,296.1l4.7,-4.7M294.2,265.3h6.6M297.5,262.0v6.6M295.1,262.9l4.7,4.7M295.1,267.7l4.7,-4.7M260.5,292.5h6.6M263.8,289.2v6.6M261.4,290.1l4.7,4.7M261.4,294.9l4.7,-4.7" stroke="#82B8BE" stroke-width="1.0" fill="none"/>
<path d="M310.8,277.2h8.8l-4.4,-7.6z" fill="#965F91"/>
<rect x="393.1" y="242.4" width="7.6" height="7.6" fill="#82925F"/>
<polygon points="250.4,106.5 289.5,235.2 284.2,254.8 255.5,290.0 217.3,283.4 154.1,238.0 121.1,183.2" fill="#E4C58B" fill-opacity="0.2" stroke="#E4C58B" stroke-width="1.15" stroke-linejoin="round"/>
<polygon points="347.7,181.4 388.6,262.9 380.0,292.0 357.9,322.6 317.9,331.0 245.2,308.8 236.7,293.4 264.7,212.1 277.0,204.7" fill="#965F91" fill-opacity="0.2" stroke="#965F91" stroke-width="1.15" stroke-linejoin="round"/>
<polygon points="352.3,160.9 492.9,179.1 422.9,324.4 381.4,307.0 328.0,252.2" fill="#82925F" fill-opacity="0.2" stroke="#82925F" stroke-width="1.15" stroke-linejoin="round"/>
<polygon points="324.3,200.7 371.7,198.3 442.2,220.8 444.8,232.2 445.9,254.8 369.6,292.5" fill="#B84759" fill-opacity="0.2" stroke="#B84759" stroke-width="1.15" stroke-linejoin="round"/>
<polygon points="471.1,56.3 503.9,57.8 509.5,62.6 474.8,62.0" fill="#2A6985" fill-opacity="0.2" stroke="#2A6985" stroke-width="1.15" stroke-linejoin="round"/>
<polygon points="297.5,265.3 399.4,291.6 406.3,314.2 403.4,335.5 374.2,372.8 307.1,366.4 276.5,344.6 254.0,325.8 263.8,292.5" fill="#82B8BE" fill-opacity="0.2" stroke="#82B8BE" stroke-width="1.15" stroke-linejoin="round"/>
<rect x="101.5" y="41.0" width="427.0" height="347.5" fill="none" stroke="#4d4d4d" stroke-width="1"/>
<line x1="140.60" x2="140.60" y1="382.0" y2="388.5" stroke="#4d4d4d" stroke-width="1"/>
<text x="140.60" y="408.8" text-anchor="middle" class="t13">-5.0</text>
<line x1="237.73" x2="237.73" y1="382.0" y2="388.5" stroke="#4d4d4d" stroke-width="1"/>
<text x="237.73" y="408.8" text-anchor="middle" class="t13">-2.5</text>
<line x1="334.85" x2="334.85" y1="382.0" y2="388.5" stroke="#4d4d4d" stroke-width="1"/>
<text x="334.85" y="408.8" text-anchor="middle" class="t13">0.0</text>
<line x1="431.98" x2="431.98" y1="382.0" y2="388.5" stroke="#4d4d4d" stroke-width="1"/>
<text x="431.98" y="408.8" text-anchor="middle" class="t13">2.5</text>
<line y1="111.50" y2="111.50" x1="101.5" x2="108.0" stroke="#4d4d4d" stroke-width="1"/>
<text x="90" y="111.4" text-anchor="end" class="t13">5.0</text>
<line y1="192.38" y2="192.38" x1="101.5" x2="108.0" stroke="#4d4d4d" stroke-width="1"/>
<text x="90" y="192.3" text-anchor="end" class="t13">2.5</text>
<line y1="273.25" y2="273.25" x1="101.5" x2="108.0" stroke="#4d4d4d" stroke-width="1"/>
<text x="90" y="273.1" text-anchor="end" class="t13">0.0</text>
<line y1="354.12" y2="354.12" x1="101.5" x2="108.0" stroke="#4d4d4d" stroke-width="1"/>
<text x="90" y="354.0" text-anchor="end" class="t13">-2.5</text>
<rect x="101.5" y="509.1" width="427.0" height="347.4" fill="#fff"/>
<line x1="189.16" x2="189.16" y1="509.1" y2="856.5" stroke="#f0f0f0" stroke-width="0.8"/>
<line x1="286.29" x2="286.29" y1="509.1" y2="856.5" stroke="#f0f0f0" stroke-width="0.8"/>
<line x1="383.41" x2="383.41" y1="509.1" y2="856.5" stroke="#f0f0f0" stroke-width="0.8"/>
<line x1="480.54" x2="480.54" y1="509.1" y2="856.5" stroke="#f0f0f0" stroke-width="0.8"/>
<line y1="559.10" y2="559.10" x1="101.5" x2="528.5" stroke="#f0f0f0" stroke-width="0.8"/>
<line y1="647.30" y2="647.30" x1="101.5" x2="528.5" stroke="#f0f0f0" stroke-width="0.8"/>
<line y1="735.50" y2="735.50" x1="101.5" x2="528.5" stroke="#f0f0f0" stroke-width="0.8"/>
<line y1="823.70" y2="823.70" x1="101.5" x2="528.5" stroke="#f0f0f0" stroke-width="0.8"/>
<line x1="140.60" x2="140.60" y1="509.1" y2="856.5" stroke="#e8e8e8" stroke-width="1"/>
<line x1="237.73" x2="237.73" y1="509.1" y2="856.5" stroke="#e8e8e8" stroke-width="1"/>
<line x1="334.85" x2="334.85" y1="509.1" y2="856.5" stroke="#e8e8e8" stroke-width="1"/>
<line x1="431.98" x2="431.98" y1="509.1" y2="856.5" stroke="#e8e8e8" stroke-width="1"/>
<line y1="515.00" y2="515.00" x1="101.5" x2="528.5" stroke="#e8e8e8" stroke-width="1"/>
<line y1="603.20" y2="603.20" x1="101.5" x2="528.5" stroke="#e8e8e8" stroke-width="1"/>
<line y1="691.40" y2="691.40" x1="101.5" x2="528.5" stroke="#e8e8e8" stroke-width="1"/>
<line y1="779.60" y2="779.60" x1="101.5" x2="528.5" stroke="#e8e8e8" stroke-width="1"/>
<circle cx="227.8" cy="638.0" r="2.25" fill="#E4C58B"/>
<circle cx="255.5" cy="650.1" r="2.25" fill="#E4C58B"/>
<circle cx="228.7" cy="655.8" r="2.25" fill="#E4C58B"/>
<circle cx="231.7" cy="664.8" r="2.25" fill="#E4C58B"/>
<circle cx="235.9" cy="672.6" r="2.25" fill="#E4C58B"/>
<circle cx="238.0" cy="679.8" r="2.25" fill="#E4C58B"/>
<circle cx="243.2" cy="679.8" r="2.25" fill="#E4C58B"/>
<circle cx="246.8" cy="657.6" r="2.25" fill="#E4C58B"/>
<circle cx="246.5" cy="668.1" r="2.25" fill="#E4C58B"/>
<circle cx="179.1" cy="678.6" r="2.25" fill="#E4C58B"/>
<circle cx="217.3" cy="683.2" r="2.25" fill="#E4C58B"/>
<circle cx="218.8" cy="684.1" r="2.25" fill="#E4C58B"/>
<circle cx="202.9" cy="691.0" r="2.25" fill="#E4C58B"/>
<circle cx="226.0" cy="691.0" r="2.25" fill="#E4C58B"/>
<circle cx="232.3" cy="693.1" r="2.25" fill="#E4C58B"/>
<circle cx="234.7" cy="693.1" r="2.25" fill="#E4C58B"/>
<circle cx="237.7" cy="695.8" r="2.25" fill="#E4C58B"/>
<circle cx="181.8" cy="698.5" r="2.25" fill="#E4C58B"/>
<circle cx="187.2" cy="699.7" r="2.25" fill="#E4C58B"/>
<circle cx="192.6" cy="697.9" r="2.25" fill="#E4C58B"/>
<circle cx="196.2" cy="701.2" r="2.25" fill="#E4C58B"/>
<circle cx="215.5" cy="697.6" r="2.25" fill="#E4C58B"/>
<circle cx="217.9" cy="697.0" r="2.25" fill="#E4C58B"/>
<circle cx="207.1" cy="702.7" r="2.25" fill="#E4C58B"/>
<circle cx="209.5" cy="703.6" r="2.25" fill="#E4C58B"/>
<circle cx="219.1" cy="703.3" r="2.25" fill="#E4C58B"/>
<circle cx="222.4" cy="705.7" r="2.25" fill="#E4C58B"/>
<circle cx="202.3" cy="706.6" r="2.25" fill="#E4C58B"/>
<circle cx="190.2" cy="709.6" r="2.25" fill="#E4C58B"/>
<circle cx="178.2" cy="711.1" r="2.25" fill="#E4C58B"/>
<circle cx="200.8" cy="711.7" r="2.25" fill="#E4C58B"/>
<circle cx="205.3" cy="709.6" r="2.25" fill="#E4C58B"/>
<circle cx="207.1" cy="711.1" r="2.25" fill="#E4C58B"/>
<circle cx="216.4" cy="710.2" r="2.25" fill="#E4C58B"/>
<circle cx="221.8" cy="712.3" r="2.25" fill="#E4C58B"/>
<circle cx="223.9" cy="713.2" r="2.25" fill="#E4C58B"/>
<circle cx="233.8" cy="711.1" r="2.25" fill="#E4C58B"/>
<circle cx="239.8" cy="709.3" r="2.25" fill="#E4C58B"/>
<circle cx="248.0" cy="709.9" r="2.25" fill="#E4C58B"/>
<circle cx="248.6" cy="698.2" r="2.25" fill="#E4C58B"/>
<circle cx="254.0" cy="700.6" r="2.25" fill="#E4C58B"/>
<circle cx="255.2" cy="705.7" r="2.25" fill="#E4C58B"/>
<circle cx="205.9" cy="717.7" r="2.25" fill="#E4C58B"/>
<circle cx="208.3" cy="718.6" r="2.25" fill="#E4C58B"/>
<circle cx="210.7" cy="716.8" r="2.25" fill="#E4C58B"/>
<circle cx="212.8" cy="715.6" r="2.25" fill="#E4C58B"/>
<circle cx="221.8" cy="715.6" r="2.25" fill="#E4C58B"/>
<circle cx="187.2" cy="719.8" r="2.25" fill="#E4C58B"/>
<circle cx="188.4" cy="723.2" r="2.25" fill="#E4C58B"/>
<circle cx="182.4" cy="722.0" r="2.25" fill="#E4C58B"/>
<circle cx="198.9" cy="723.2" r="2.25" fill="#E4C58B"/>
<circle cx="202.6" cy="724.4" r="2.25" fill="#E4C58B"/>
<circle cx="217.3" cy="723.8" r="2.25" fill="#E4C58B"/>
<circle cx="220.3" cy="723.2" r="2.25" fill="#E4C58B"/>
<circle cx="226.3" cy="720.2" r="2.25" fill="#E4C58B"/>
<circle cx="229.9" cy="720.2" r="2.25" fill="#E4C58B"/>
<circle cx="232.6" cy="718.0" r="2.25" fill="#E4C58B"/>
<circle cx="237.4" cy="719.2" r="2.25" fill="#E4C58B"/>
<circle cx="215.2" cy="729.5" r="2.25" fill="#E4C58B"/>
<circle cx="212.2" cy="734.9" r="2.25" fill="#E4C58B"/>
<circle cx="164.7" cy="730.1" r="2.25" fill="#E4C58B"/>
<circle cx="171.3" cy="733.1" r="2.25" fill="#E4C58B"/>
<circle cx="152.9" cy="735.8" r="2.25" fill="#E4C58B"/>
<circle cx="177.6" cy="735.8" r="2.25" fill="#E4C58B"/>
<circle cx="179.7" cy="737.3" r="2.25" fill="#E4C58B"/>
<circle cx="181.2" cy="733.1" r="2.25" fill="#E4C58B"/>
<circle cx="184.2" cy="735.2" r="2.25" fill="#E4C58B"/>
<circle cx="184.8" cy="740.0" r="2.25" fill="#E4C58B"/>
<circle cx="179.7" cy="741.2" r="2.25" fill="#E4C58B"/>
<circle cx="243.2" cy="731.0" r="2.25" fill="#E4C58B"/>
<circle cx="259.4" cy="734.9" r="2.25" fill="#E4C58B"/>
<circle cx="236.2" cy="737.6" r="2.25" fill="#E4C58B"/>
<circle cx="230.2" cy="742.4" r="2.25" fill="#E4C58B"/>
<circle cx="173.4" cy="745.1" r="2.25" fill="#E4C58B"/>
<circle cx="171.6" cy="746.9" r="2.25" fill="#E4C58B"/>
<circle cx="169.8" cy="748.7" r="2.25" fill="#E4C58B"/>
<circle cx="161.4" cy="749.3" r="2.25" fill="#E4C58B"/>
<circle cx="174.0" cy="753.8" r="2.25" fill="#E4C58B"/>
<circle cx="206.2" cy="752.0" r="2.25" fill="#E4C58B"/>
<circle cx="242.9" cy="748.7" r="2.25" fill="#E4C58B"/>
<circle cx="250.4" cy="748.1" r="2.25" fill="#E4C58B"/>
<circle cx="142.4" cy="751.1" r="2.25" fill="#E4C58B"/>
<circle cx="147.2" cy="756.8" r="2.25" fill="#E4C58B"/>
<circle cx="146.6" cy="760.5" r="2.25" fill="#E4C58B"/>
<circle cx="169.5" cy="762.0" r="2.25" fill="#E4C58B"/>
<circle cx="155.0" cy="765.3" r="2.25" fill="#E4C58B"/>
<circle cx="213.7" cy="771.0" r="2.25" fill="#E4C58B"/>
<circle cx="141.8" cy="775.2" r="2.25" fill="#E4C58B"/>
<circle cx="154.4" cy="779.4" r="2.25" fill="#E4C58B"/>
<circle cx="195.9" cy="775.8" r="2.25" fill="#E4C58B"/>
<circle cx="154.1" cy="827.5" r="2.25" fill="#E4C58B"/>
<circle cx="176.1" cy="834.7" r="2.25" fill="#E4C58B"/>
<circle cx="289.5" cy="732.8" r="2.25" fill="#E4C58B"/>
<circle cx="284.1" cy="737.9" r="2.25" fill="#E4C58B"/>
<path d="M321.1,526.3h5.8l-2.9,-5zM283.5,548.0h5.8l-2.9,-5zM293.0,550.4h5.8l-2.9,-5zM274.2,556.7h5.8l-2.9,-5zM269.4,559.4h5.8l-2.9,-5zM328.3,565.4h5.8l-2.9,-5zM300.1,571.0h5.8l-2.9,-5zM317.1,572.9h5.8l-2.9,-5zM298.0,576.5h5.8l-2.9,-5zM309.1,577.7h5.8l-2.9,-5zM280.2,579.7h5.8l-2.9,-5zM264.9,584.5h5.8l-2.9,-5zM298.3,585.3h5.8l-2.9,-5zM305.3,584.5h5.8l-2.9,-5zM316.6,585.0h5.8l-2.9,-5zM300.5,591.7h5.8l-2.9,-5zM322.8,595.0h5.8l-2.9,-5zM274.5,601.8h5.8l-2.9,-5zM295.3,604.8h5.8l-2.9,-5zM293.8,607.8h5.8l-2.9,-5zM305.3,606.8h5.8l-2.9,-5zM274.8,607.8h5.8l-2.9,-5zM327.9,604.4h5.8l-2.9,-5zM267.0,615.0h5.8l-2.9,-5zM298.3,613.8h5.8l-2.9,-5zM305.3,612.6h5.8l-2.9,-5zM314.8,613.1h5.8l-2.9,-5zM317.8,613.1h5.8l-2.9,-5zM326.1,617.6h5.8l-2.9,-5zM328.3,616.1h5.8l-2.9,-5zM330.6,613.8h5.8l-2.9,-5zM304.7,620.6h5.8l-2.9,-5zM261.4,621.3h5.8l-2.9,-5zM323.8,620.6h5.8l-2.9,-5zM356.5,532.9h5.8l-2.9,-5zM351.3,557.9h5.8l-2.9,-5zM344.6,565.7h5.8l-2.9,-5zM340.4,572.0h5.8l-2.9,-5zM345.9,574.0h5.8l-2.9,-5zM360.4,576.7h5.8l-2.9,-5zM375.0,572.5h5.8l-2.9,-5zM385.0,580.4h5.8l-2.9,-5zM375.7,586.5h5.8l-2.9,-5zM344.9,590.5h5.8l-2.9,-5zM350.4,589.3h5.8l-2.9,-5zM334.8,594.6h5.8l-2.9,-5zM364.9,596.1h5.8l-2.9,-5zM361.7,599.1h5.8l-2.9,-5zM350.9,612.6h5.8l-2.9,-5zM354.7,612.0h5.8l-2.9,-5zM358.9,613.1h5.8l-2.9,-5zM362.2,611.1h5.8l-2.9,-5zM351.3,616.1h5.8l-2.9,-5zM332.9,616.1h5.8l-2.9,-5zM333.9,619.8h5.8l-2.9,-5zM381.7,620.6h5.8l-2.9,-5zM268.9,626.7h5.8l-2.9,-5zM264.4,632.7h5.8l-2.9,-5zM263.4,635.7h5.8l-2.9,-5zM277.5,633.9h5.8l-2.9,-5zM315.3,623.4h5.8l-2.9,-5zM309.5,625.6h5.8l-2.9,-5zM319.3,627.1h5.8l-2.9,-5zM324.1,626.7h5.8l-2.9,-5zM326.1,618.9h5.8l-2.9,-5zM290.0,634.2h5.8l-2.9,-5zM293.5,636.2h5.8l-2.9,-5zM300.5,630.1h5.8l-2.9,-5zM328.3,634.7h5.8l-2.9,-5zM323.1,638.4h5.8l-2.9,-5zM321.6,640.7h5.8l-2.9,-5zM317.8,639.2h5.8l-2.9,-5zM305.8,641.4h5.8l-2.9,-5zM308.0,642.2h5.8l-2.9,-5zM311.0,641.4h5.8l-2.9,-5zM314.1,645.9h5.8l-2.9,-5zM286.2,643.7h5.8l-2.9,-5zM284.0,646.7h5.8l-2.9,-5zM288.5,647.4h5.8l-2.9,-5zM296.0,645.9h5.8l-2.9,-5zM294.5,642.2h5.8l-2.9,-5zM297.5,641.4h5.8l-2.9,-5zM302.0,648.2h5.8l-2.9,-5zM300.5,648.9h5.8l-2.9,-5zM306.5,651.9h5.8l-2.9,-5zM311.3,654.2h5.8l-2.9,-5zM317.8,650.4h5.8l-2.9,-5zM320.8,648.9h5.8l-2.9,-5zM326.1,644.4h5.8l-2.9,-5zM329.1,649.7h5.8l-2.9,-5zM257.7,647.4h5.8l-2.9,-5zM242.3,647.7h5.8l-2.9,-5zM269.4,653.0h5.8l-2.9,-5zM275.7,651.9h5.8l-2.9,-5zM271.2,656.5h5.8l-2.9,-5zM268.6,659.5h5.8l-2.9,-5zM266.7,661.0h5.8l-2.9,-5zM287.7,653.5h5.8l-2.9,-5zM285.9,656.5h5.8l-2.9,-5zM295.0,654.2h5.8l-2.9,-5zM253.5,658.0h5.8l-2.9,-5zM253.9,664.0h5.8l-2.9,-5zM247.1,665.5h5.8l-2.9,-5zM248.9,667.0h5.8l-2.9,-5zM267.7,665.5h5.8l-2.9,-5zM276.0,666.2h5.8l-2.9,-5zM255.4,669.5h5.8l-2.9,-5zM261.7,668.9h5.8l-2.9,-5zM308.3,661.4h5.8l-2.9,-5zM326.1,661.7h5.8l-2.9,-5zM325.3,667.0h5.8l-2.9,-5zM314.5,671.5h5.8l-2.9,-5zM295.3,673.0h5.8l-2.9,-5zM303.5,673.8h5.8l-2.9,-5zM273.9,675.7h5.8l-2.9,-5zM285.5,676.8h5.8l-2.9,-5zM298.3,678.3h5.8l-2.9,-5zM281.0,680.2h5.8l-2.9,-5zM267.4,679.8h5.8l-2.9,-5zM282.9,683.5h5.8l-2.9,-5zM290.4,680.5h5.8l-2.9,-5zM300.5,683.5h5.8l-2.9,-5zM305.0,682.8h5.8l-2.9,-5zM313.3,679.8h5.8l-2.9,-5zM319.8,681.6h5.8l-2.9,-5zM258.4,685.8h5.8l-2.9,-5zM261.7,689.1h5.8l-2.9,-5zM250.1,682.8h5.8l-2.9,-5zM331.3,622.6h5.8l-2.9,-5zM330.6,642.2h5.8l-2.9,-5zM351.3,614.4h5.8l-2.9,-5zM354.4,613.9h5.8l-2.9,-5zM356.9,622.6h5.8l-2.9,-5zM356.2,626.4h5.8l-2.9,-5zM367.9,622.9h5.8l-2.9,-5zM381.4,621.9h5.8l-2.9,-5zM341.1,626.4h5.8l-2.9,-5zM346.4,625.6h5.8l-2.9,-5zM343.4,627.1h5.8l-2.9,-5zM362.9,631.6h5.8l-2.9,-5zM351.3,633.9h5.8l-2.9,-5zM359.6,638.4h5.8l-2.9,-5zM361.4,640.7h5.8l-2.9,-5zM347.9,640.7h5.8l-2.9,-5zM335.1,639.9h5.8l-2.9,-5zM338.9,640.7h5.8l-2.9,-5zM333.6,642.9h5.8l-2.9,-5zM342.6,643.7h5.8l-2.9,-5zM357.7,648.2h5.8l-2.9,-5zM348.6,646.7h5.8l-2.9,-5zM354.4,655.0h5.8l-2.9,-5zM343.4,657.2h5.8l-2.9,-5zM342.6,661.0h5.8l-2.9,-5zM337.4,661.0h5.8l-2.9,-5zM351.6,660.2h5.8l-2.9,-5zM332.9,664.7h5.8l-2.9,-5zM350.9,675.3h5.8l-2.9,-5zM335.9,651.9h5.8l-2.9,-5zM339.6,647.4h5.8l-2.9,-5zM285.9,717.1h5.8l-2.9,-5zM294.9,712.3h5.8l-2.9,-5zM383.2,617.7h5.8l-2.9,-5zM233.5,645.4h5.8l-2.9,-5z" fill="#965F91"/>
<path d="M372.6,573.7h4.4v4.4h-4.4zM375.7,586.7h4.4v4.4h-4.4zM382.4,587.4h4.4v4.4h-4.4zM409.0,592.5h4.4v4.4h-4.4zM370.7,600.5h4.4v4.4h-4.4zM379.0,599.8h4.4v4.4h-4.4zM402.4,604.7h4.4v4.4h-4.4zM414.0,604.3h4.4v4.4h-4.4zM375.7,608.3h4.4v4.4h-4.4zM413.6,609.5h4.4v4.4h-4.4zM389.6,617.0h4.4v4.4h-4.4zM387.7,620.1h4.4v4.4h-4.4zM411.7,619.5h4.4v4.4h-4.4zM420.8,622.1h4.4v4.4h-4.4zM427.2,623.9h4.4v4.4h-4.4zM382.4,622.1h4.4v4.4h-4.4zM377.6,623.6h4.4v4.4h-4.4zM396.4,625.4h4.4v4.4h-4.4zM412.0,625.8h4.4v4.4h-4.4zM414.8,627.3h4.4v4.4h-4.4zM395.7,629.6h4.4v4.4h-4.4zM366.2,626.6h4.4v4.4h-4.4zM382.7,631.1h4.4v4.4h-4.4zM390.7,631.6h4.4v4.4h-4.4zM406.0,637.6h4.4v4.4h-4.4zM382.9,638.9h4.4v4.4h-4.4zM394.5,640.1h4.4v4.4h-4.4zM404.7,643.9h4.4v4.4h-4.4zM422.0,643.6h4.4v4.4h-4.4zM421.5,646.6h4.4v4.4h-4.4zM374.6,643.9h4.4v4.4h-4.4zM377.9,646.1h4.4v4.4h-4.4zM383.9,643.9h4.4v4.4h-4.4zM387.2,644.6h4.4v4.4h-4.4zM387.7,647.2h4.4v4.4h-4.4zM427.8,649.6h4.4v4.4h-4.4zM384.2,650.7h4.4v4.4h-4.4zM376.7,651.4h4.4v4.4h-4.4zM367.7,651.4h4.4v4.4h-4.4zM418.8,654.0h4.4v4.4h-4.4zM427.8,656.2h4.4v4.4h-4.4zM380.9,655.9h4.4v4.4h-4.4zM384.7,656.2h4.4v4.4h-4.4zM401.5,656.4h4.4v4.4h-4.4zM428.7,660.4h4.4v4.4h-4.4zM406.5,661.2h4.4v4.4h-4.4zM390.7,664.6h4.4v4.4h-4.4zM376.4,658.6h4.4v4.4h-4.4zM380.2,663.4h4.4v4.4h-4.4zM367.7,666.7h4.4v4.4h-4.4zM380.6,667.6h4.4v4.4h-4.4zM385.7,669.2h4.4v4.4h-4.4zM416.7,666.0h4.4v4.4h-4.4zM354.6,672.5h4.4v4.4h-4.4zM396.3,675.5h4.4v4.4h-4.4zM415.5,673.2h4.4v4.4h-4.4zM411.7,676.7h4.4v4.4h-4.4zM362.9,675.8h4.4v4.4h-4.4zM376.9,676.7h4.4v4.4h-4.4zM381.7,679.2h4.4v4.4h-4.4zM402.0,679.2h4.4v4.4h-4.4zM406.5,680.0h4.4v4.4h-4.4zM364.4,681.9h4.4v4.4h-4.4zM419.7,683.7h4.4v4.4h-4.4zM360.6,689.5h4.4v4.4h-4.4zM373.4,690.5h4.4v4.4h-4.4zM398.5,693.1h4.4v4.4h-4.4zM417.0,690.2h4.4v4.4h-4.4zM420.3,689.5h4.4v4.4h-4.4zM425.3,693.2h4.4v4.4h-4.4zM431.3,694.3h4.4v4.4h-4.4zM350.5,695.8h4.4v4.4h-4.4zM380.6,698.8h4.4v4.4h-4.4zM372.2,702.5h4.4v4.4h-4.4zM377.9,705.5h4.4v4.4h-4.4zM363.6,706.3h4.4v4.4h-4.4zM397.5,695.0h4.4v4.4h-4.4zM437.6,626.9h4.4v4.4h-4.4zM435.4,642.2h4.4v4.4h-4.4zM449.2,651.3h4.4v4.4h-4.4zM465.5,661.8h4.4v4.4h-4.4zM490.3,659.7h4.4v4.4h-4.4zM485.8,662.7h4.4v4.4h-4.4zM439.9,668.7h4.4v4.4h-4.4zM469.5,669.0h4.4v4.4h-4.4zM464.0,672.0h4.4v4.4h-4.4zM440.7,679.2h4.4v4.4h-4.4zM434.6,684.5h4.4v4.4h-4.4zM460.2,687.0h4.4v4.4h-4.4zM380.1,697.6h4.4v4.4h-4.4zM396.7,696.8h4.4v4.4h-4.4zM386.9,705.8h4.4v4.4h-4.4zM350.1,710.4h4.4v4.4h-4.4zM440.6,690.5h4.4v4.4h-4.4zM437.6,704.3h4.4v4.4h-4.4zM426.7,709.2h4.4v4.4h-4.4zM434.7,710.7h4.4v4.4h-4.4zM397.7,714.1h4.4v4.4h-4.4zM398.2,719.4h4.4v4.4h-4.4zM380.9,719.7h4.4v4.4h-4.4zM411.4,718.6h4.4v4.4h-4.4zM426.0,727.6h4.4v4.4h-4.4zM424.5,732.9h4.4v4.4h-4.4zM357.6,732.6h4.4v4.4h-4.4zM325.7,673.6h4.4v4.4h-4.4z" fill="#82925F"/>
<path d="M407.0,695.3h6.4M410.2,692.1v6.4M330.0,754.4h6.4M333.2,751.2v6.4M345.6,756.8h6.4M348.8,753.6v6.4M441.8,712.3h6.4M445.0,709.1v6.4M368.2,730.3h6.4M371.4,727.1v6.4M388.6,727.6h6.4M391.8,724.4v6.4M382.4,734.1h6.4M385.6,730.9v6.4M412.5,740.4h6.4M415.7,737.2v6.4M416.0,739.3h6.4M419.2,736.1v6.4M418.7,740.4h6.4M421.9,737.2v6.4M441.8,733.3h6.4M445.0,730.1v6.4M432.5,741.9h6.4M435.7,738.7v6.4M431.0,744.9h6.4M434.2,741.7v6.4M432.8,749.4h6.4M436.0,746.2v6.4M366.0,747.6h6.4M369.2,744.4v6.4M357.6,756.2h6.4M360.8,753.0v6.4M385.6,753.9h6.4M388.8,750.7v6.4M390.4,755.4h6.4M393.6,752.2v6.4M397.9,756.2h6.4M401.1,753.0v6.4M390.4,759.2h6.4M393.6,756.0v6.4M413.7,756.2h6.4M416.9,753.0v6.4M419.0,759.9h6.4M422.2,756.7v6.4M379.9,761.4h6.4M383.1,758.2v6.4M384.4,763.7h6.4M387.6,760.5v6.4M387.1,765.9h6.4M390.3,762.7v6.4M392.7,763.7h6.4M395.9,760.5v6.4M411.2,765.9h6.4M414.4,762.7v6.4M424.2,765.2h6.4M427.4,762.0v6.4M425.0,769.7h6.4M428.2,766.5v6.4M427.3,768.2h6.4M430.5,765.0v6.4M434.0,762.9h6.4M437.2,759.7v6.4M439.3,756.2h6.4M442.5,753.0v6.4M376.4,769.7h6.4M379.6,766.5v6.4M366.6,773.0h6.4M369.8,769.8v6.4M372.7,777.2h6.4M375.9,774.0v6.4M378.4,780.2h6.4M381.6,777.0v6.4M375.4,785.5h6.4M378.6,782.3v6.4M398.7,773.5h6.4M401.9,770.3v6.4M399.4,777.2h6.4M402.6,774.0v6.4M396.4,780.2h6.4M399.6,777.0v6.4M403.2,776.5h6.4M406.4,773.3v6.4M407.7,777.2h6.4M410.9,774.0v6.4M410.0,772.0h6.4M413.2,768.8v6.4M411.5,774.2h6.4M414.7,771.0v6.4M417.5,772.0h6.4M420.7,768.8v6.4M416.7,777.2h6.4M419.9,774.0v6.4M412.2,781.7h6.4M415.4,778.5v6.4M407.0,782.5h6.4M410.2,779.3v6.4M407.7,786.2h6.4M410.9,783.0v6.4M398.7,783.2h6.4M401.9,780.0v6.4M391.9,786.2h6.4M395.1,783.0v6.4M420.5,784.0h6.4M423.7,780.8v6.4M439.3,753.2h6.4M442.5,750.0v6.4M402.4,779.5h6.4M405.6,776.3v6.4M405.4,780.2h6.4M408.6,777.0v6.4M400.2,775.7h6.4M403.4,772.5v6.4M366.0,790.3h6.4M369.2,787.1v6.4M357.0,795.4h6.4M360.2,792.2v6.4M363.6,797.4h6.4M366.8,794.2v6.4M361.1,804.9h6.4M364.3,801.7v6.4M365.6,811.4h6.4M368.8,808.2v6.4M366.3,814.7h6.4M369.5,811.5v6.4M376.4,824.0h6.4M379.6,820.8v6.4M378.4,829.2h6.4M381.6,826.0v6.4M388.6,835.0h6.4M391.8,831.8v6.4M362.6,840.7h6.4M365.8,837.5v6.4M426.0,796.6h6.4M429.2,793.4v6.4M420.5,793.6h6.4M423.7,790.4v6.4M414.0,790.9h6.4M417.2,787.7v6.4M410.7,792.9h6.4M413.9,789.7v6.4M389.7,789.1h6.4M392.9,785.9v6.4M394.2,795.1h6.4M397.4,791.9v6.4M395.7,798.1h6.4M398.9,794.9v6.4M389.7,798.9h6.4M392.9,795.7v6.4M392.7,800.4h6.4M395.9,797.2v6.4M382.9,804.1h6.4M386.1,800.9v6.4M379.9,808.6h6.4M383.1,805.4v6.4M387.4,807.9h6.4M390.6,804.7v6.4M391.9,809.4h6.4M395.1,806.2v6.4M384.4,813.9h6.4M387.6,810.7v6.4M397.2,816.2h6.4M400.4,813.0v6.4M394.2,818.7h6.4M397.4,815.5v6.4M402.4,807.1h6.4M405.6,803.9v6.4M396.4,802.6h6.4M399.6,799.4v6.4M398.7,805.6h6.4M401.9,802.4v6.4M403.9,795.1h6.4M407.1,791.9v6.4M406.2,798.1h6.4M409.4,794.9v6.4M408.5,800.4h6.4M411.7,797.2v6.4M403.2,798.1h6.4M406.4,794.9v6.4M400.9,794.4h6.4M404.1,791.2v6.4M405.4,787.6h6.4M408.6,784.4v6.4M408.5,780.1h6.4M411.7,776.9v6.4M413.0,777.8h6.4M416.2,774.6v6.4M394.9,777.1h6.4M398.1,773.9v6.4M400.2,774.1h6.4M403.4,770.9v6.4M399.4,781.6h6.4M402.6,778.4v6.4M404.7,793.6h6.4M407.9,790.4v6.4M321.7,743.1h6.4M324.9,739.9v6.4" stroke="#B84759" stroke-width="1" fill="none"/>
<path d="M468.7,598.8h4.6v4.6h-4.6zM468.7,598.8l4.6,4.6M468.7,603.4l4.6,-4.6" stroke="#2A6985" stroke-width="0.9" fill="none"/>
<path d="M501.2,605.6h4.6v4.6h-4.6zM501.2,605.6l4.6,4.6M501.2,610.2l4.6,-4.6" stroke="#2A6985" stroke-width="0.9" fill="none"/>
<path d="M506.9,614.0h4.6v4.6h-4.6zM506.9,614.0l4.6,4.6M506.9,618.6l4.6,-4.6" stroke="#2A6985" stroke-width="0.9" fill="none"/>
<path d="M502.5,617.3h4.6v4.6h-4.6zM502.5,617.3l4.6,4.6M502.5,621.9l4.6,-4.6" stroke="#2A6985" stroke-width="0.9" fill="none"/>
<path d="M488.6,615.5h8.0v8.0h-8.0zM488.6,615.5l8.0,8.0M488.6,623.5l8.0,-8.0" stroke="#2A6985" stroke-width="0.9" fill="none"/>
<path d="M489.1,624.0h4.6v4.6h-4.6zM489.1,624.0l4.6,4.6M489.1,628.6l4.6,-4.6" stroke="#2A6985" stroke-width="0.9" fill="none"/>
<path d="M471.7,643.0h4.6v4.6h-4.6zM471.7,643.0l4.6,4.6M471.7,647.6l4.6,-4.6" stroke="#2A6985" stroke-width="0.9" fill="none"/>
<path d="M305.4,626.2h6.6M308.7,622.9v6.6M306.3,623.9l4.7,4.7M306.3,628.6l4.7,-4.7M250.9,688.5h6.6M254.2,685.2v6.6M251.9,686.1l4.7,4.7M251.9,690.8l4.7,-4.7M269.3,670.2h6.6M272.6,666.9v6.6M270.2,667.8l4.7,4.7M270.2,672.5l4.7,-4.7M279.1,671.7h6.6M282.4,668.4v6.6M280.0,669.3l4.7,4.7M280.0,674.0l4.7,-4.7M289.6,667.1h6.6M292.9,663.8v6.6M290.5,664.8l4.7,4.7M290.5,669.5l4.7,-4.7M294.9,662.6h6.6M298.2,659.3v6.6M295.8,660.3l4.7,4.7M295.8,665.0l4.7,-4.7M297.9,667.1h6.6M301.2,663.8v6.6M298.8,664.8l4.7,4.7M298.8,669.5l4.7,-4.7M311.4,658.1h6.6M314.7,654.8v6.6M312.3,655.8l4.7,4.7M312.3,660.5l4.7,-4.7M315.9,661.9h6.6M319.2,658.6v6.6M316.9,659.5l4.7,4.7M316.9,664.2l4.7,-4.7M315.9,643.1h6.6M319.2,639.8v6.6M316.9,640.7l4.7,4.7M316.9,645.4l4.7,-4.7M323.4,642.3h6.6M326.7,639.0v6.6M324.4,640.0l4.7,4.7M324.4,644.7l4.7,-4.7M323.4,653.6h6.6M326.7,650.3v6.6M324.4,651.3l4.7,4.7M324.4,656.0l4.7,-4.7M327.9,655.1h6.6M331.2,651.8v6.6M328.9,652.8l4.7,4.7M328.9,657.5l4.7,-4.7M276.1,685.2h6.6M279.4,681.9v6.6M277.0,682.8l4.7,4.7M277.0,687.5l4.7,-4.7M283.6,695.7h6.6M286.9,692.4v6.6M284.5,693.4l4.7,4.7M284.5,698.1l4.7,-4.7M279.8,701.7h6.6M283.1,698.4v6.6M280.8,699.4l4.7,4.7M280.8,704.1l4.7,-4.7M289.6,700.2h6.6M292.9,696.9v6.6M290.5,697.9l4.7,4.7M290.5,702.6l4.7,-4.7M293.4,701.7h6.6M296.7,698.4v6.6M294.3,699.4l4.7,4.7M294.3,704.1l4.7,-4.7M272.3,706.2h6.6M275.6,702.9v6.6M273.3,703.9l4.7,4.7M273.3,708.6l4.7,-4.7M299.4,686.7h6.6M302.7,683.4v6.6M300.3,684.3l4.7,4.7M300.3,689.0l4.7,-4.7M304.6,679.2h6.6M307.9,675.9v6.6M305.6,676.8l4.7,4.7M305.6,681.5l4.7,-4.7M315.2,683.7h6.6M318.5,680.4v6.6M316.1,681.3l4.7,4.7M316.1,686.0l4.7,-4.7M318.9,688.2h6.6M322.2,684.9v6.6M319.9,685.8l4.7,4.7M319.9,690.5l4.7,-4.7M321.9,692.7h6.6M325.2,689.4v6.6M322.9,690.4l4.7,4.7M322.9,695.1l4.7,-4.7M310.6,695.7h6.6M313.9,692.4v6.6M311.6,693.4l4.7,4.7M311.6,698.1l4.7,-4.7M323.4,701.7h6.6M326.7,698.4v6.6M324.4,699.4l4.7,4.7M324.4,704.1l4.7,-4.7M320.4,698.7h6.6M323.7,695.4v6.6M321.4,696.4l4.7,4.7M321.4,701.1l4.7,-4.7M326.4,695.7h6.6M329.7,692.4v6.6M327.4,693.4l4.7,4.7M327.4,698.1l4.7,-4.7M330.2,691.2h6.6M333.5,687.9v6.6M331.1,688.9l4.7,4.7M331.1,693.6l4.7,-4.7M303.9,702.5h6.6M307.2,699.2v6.6M304.8,700.1l4.7,4.7M304.8,704.8l4.7,-4.7M308.4,707.7h6.6M311.7,704.4v6.6M309.3,705.4l4.7,4.7M309.3,710.1l4.7,-4.7M315.9,706.2h6.6M319.2,702.9v6.6M316.9,703.9l4.7,4.7M316.9,708.6l4.7,-4.7M329.4,706.2h6.6M332.7,702.9v6.6M330.4,703.9l4.7,4.7M330.4,708.6l4.7,-4.7M294.1,706.2h6.6M297.4,702.9v6.6M295.1,703.9l4.7,4.7M295.1,708.6l4.7,-4.7M259.5,692.0h6.6M262.8,688.7v6.6M260.5,689.6l4.7,4.7M260.5,694.3l4.7,-4.7M400.1,638.1h6.6M403.4,634.8v6.6M401.1,635.8l4.7,4.7M401.1,640.5l4.7,-4.7M334.0,628.8h6.6M337.3,625.5v6.6M334.9,626.4l4.7,4.7M334.9,631.1l4.7,-4.7M369.3,642.3h6.6M372.6,639.0v6.6M370.2,640.0l4.7,4.7M370.2,644.7l4.7,-4.7M367.0,656.6h6.6M370.3,653.3v6.6M368.0,654.3l4.7,4.7M368.0,659.0l4.7,-4.7M388.8,661.9h6.6M392.1,658.6v6.6M389.8,659.5l4.7,4.7M389.8,664.2l4.7,-4.7M372.3,662.6h6.6M375.6,659.3v6.6M373.3,660.3l4.7,4.7M373.3,665.0l4.7,-4.7M369.3,667.1h6.6M372.6,663.8v6.6M370.2,664.8l4.7,4.7M370.2,669.5l4.7,-4.7M365.5,670.2h6.6M368.8,666.9v6.6M366.5,667.8l4.7,4.7M366.5,672.5l4.7,-4.7M349.0,665.6h6.6M352.3,662.3v6.6M349.9,663.3l4.7,4.7M349.9,668.0l4.7,-4.7M358.0,667.1h6.6M361.3,663.8v6.6M359.0,664.8l4.7,4.7M359.0,669.5l4.7,-4.7M361.0,674.7h6.6M364.3,671.4v6.6M362.0,672.3l4.7,4.7M362.0,677.0l4.7,-4.7M367.8,676.2h6.6M371.1,672.9v6.6M368.7,673.8l4.7,4.7M368.7,678.5l4.7,-4.7M379.8,675.4h6.6M383.1,672.1v6.6M380.8,673.1l4.7,4.7M380.8,677.8l4.7,-4.7M339.2,676.9h6.6M342.5,673.6v6.6M340.2,674.6l4.7,4.7M340.2,679.3l4.7,-4.7M345.2,683.7h6.6M348.5,680.4v6.6M346.2,681.3l4.7,4.7M346.2,686.0l4.7,-4.7M349.7,688.2h6.6M353.0,684.9v6.6M350.7,685.8l4.7,4.7M350.7,690.5l4.7,-4.7M354.3,692.7h6.6M357.6,689.4v6.6M355.2,690.4l4.7,4.7M355.2,695.1l4.7,-4.7M336.2,691.2h6.6M339.5,687.9v6.6M337.2,688.9l4.7,4.7M337.2,693.6l4.7,-4.7M340.7,697.2h6.6M344.0,693.9v6.6M341.7,694.9l4.7,4.7M341.7,699.6l4.7,-4.7M355.8,700.2h6.6M359.1,696.9v6.6M356.7,697.9l4.7,4.7M356.7,702.6l4.7,-4.7M367.8,695.7h6.6M371.1,692.4v6.6M368.7,693.4l4.7,4.7M368.7,698.1l4.7,-4.7M375.3,689.7h6.6M378.6,686.4v6.6M376.3,687.3l4.7,4.7M376.3,692.0l4.7,-4.7M369.3,700.2h6.6M372.6,696.9v6.6M370.2,697.9l4.7,4.7M370.2,702.6l4.7,-4.7M378.3,697.2h6.6M381.6,693.9v6.6M379.3,694.9l4.7,4.7M379.3,699.6l4.7,-4.7M388.8,682.9h6.6M392.1,679.6v6.6M389.8,680.6l4.7,4.7M389.8,685.3l4.7,-4.7M392.6,684.4h6.6M395.9,681.1v6.6M393.6,682.1l4.7,4.7M393.6,686.8l4.7,-4.7M396.4,683.7h6.6M399.7,680.4v6.6M397.3,681.3l4.7,4.7M397.3,686.0l4.7,-4.7M381.3,680.7h6.6M384.6,677.4v6.6M382.3,678.3l4.7,4.7M382.3,683.0l4.7,-4.7M334.7,703.2h6.6M338.0,699.9v6.6M335.7,700.9l4.7,4.7M335.7,705.6l4.7,-4.7M351.2,706.2h6.6M354.5,702.9v6.6M352.2,703.9l4.7,4.7M352.2,708.6l4.7,-4.7M345.2,702.5h6.6M348.5,699.2v6.6M346.2,700.1l4.7,4.7M346.2,704.8l4.7,-4.7M337.7,652.1h6.6M341.0,648.8v6.6M338.7,649.8l4.7,4.7M338.7,654.5l4.7,-4.7M346.7,650.6h6.6M350.0,647.3v6.6M347.7,648.3l4.7,4.7M347.7,653.0l4.7,-4.7M352.0,643.8h6.6M355.3,640.5v6.6M353.0,641.5l4.7,4.7M353.0,646.2l4.7,-4.7M334.0,668.6h6.6M337.3,665.3v6.6M334.9,666.3l4.7,4.7M334.9,671.0l4.7,-4.7M361.8,658.1h6.6M365.1,654.8v6.6M362.7,655.8l4.7,4.7M362.7,660.5l4.7,-4.7M258.7,718.8h6.6M262.0,715.5v6.6M259.7,716.4l4.7,4.7M259.7,721.1l4.7,-4.7M260.2,712.8h6.6M263.5,709.5v6.6M261.2,710.4l4.7,4.7M261.2,715.1l4.7,-4.7M265.5,715.0h6.6M268.8,711.7v6.6M266.4,712.7l4.7,4.7M266.4,717.4l4.7,-4.7M274.5,721.1h6.6M277.8,717.8v6.6M275.5,718.7l4.7,4.7M275.5,723.4l4.7,-4.7M272.3,733.1h6.6M275.6,729.8v6.6M273.2,730.7l4.7,4.7M273.2,735.4l4.7,-4.7M282.8,739.1h6.6M286.1,735.8v6.6M283.7,736.7l4.7,4.7M283.7,741.4l4.7,-4.7M290.3,727.8h6.6M293.6,724.5v6.6M291.3,725.5l4.7,4.7M291.3,730.2l4.7,-4.7M298.6,733.1h6.6M301.9,729.8v6.6M299.5,730.7l4.7,4.7M299.5,735.4l4.7,-4.7M296.3,742.1h6.6M299.6,738.8v6.6M297.3,739.8l4.7,4.7M297.3,744.5l4.7,-4.7M294.1,751.1h6.6M297.4,747.8v6.6M295.0,748.8l4.7,4.7M295.0,753.5l4.7,-4.7M295.6,752.6h6.6M298.9,749.3v6.6M296.5,750.3l4.7,4.7M296.5,755.0l4.7,-4.7M300.8,750.4h6.6M304.1,747.1v6.6M301.8,748.0l4.7,4.7M301.8,752.7l4.7,-4.7M304.6,748.1h6.6M307.9,744.8v6.6M305.5,745.8l4.7,4.7M305.5,750.5l4.7,-4.7M306.1,749.6h6.6M309.4,746.3v6.6M307.0,747.3l4.7,4.7M307.0,752.0l4.7,-4.7M297.8,768.4h6.6M301.1,765.1v6.6M298.8,766.1l4.7,4.7M298.8,770.8l4.7,-4.7M305.0,773.7h6.6M308.3,770.4v6.6M306.0,771.3l4.7,4.7M306.0,776.0l4.7,-4.7M315.9,786.5h6.6M319.2,783.2v6.6M316.8,784.1l4.7,4.7M316.8,788.8l4.7,-4.7M329.4,789.0h6.6M332.7,785.7v6.6M330.4,786.7l4.7,4.7M330.4,791.4l4.7,-4.7M328.7,777.4h6.6M332.0,774.1v6.6M329.6,775.1l4.7,4.7M329.6,779.8l4.7,-4.7M330.9,775.2h6.6M334.2,771.9v6.6M331.9,772.8l4.7,4.7M331.9,777.5l4.7,-4.7M344.4,782.0h6.6M347.7,778.7v6.6M345.4,779.6l4.7,4.7M345.4,784.3l4.7,-4.7M287.3,718.0h6.6M290.6,714.7v6.6M288.3,715.7l4.7,4.7M288.3,720.4l4.7,-4.7M294.8,715.8h6.6M298.1,712.5v6.6M295.8,713.4l4.7,4.7M295.8,718.1l4.7,-4.7M297.8,718.8h6.6M301.1,715.5v6.6M298.8,716.4l4.7,4.7M298.8,721.1l4.7,-4.7M302.3,709.0h6.6M305.6,705.7v6.6M303.3,706.7l4.7,4.7M303.3,711.4l4.7,-4.7M311.4,711.3h6.6M314.7,708.0v6.6M312.3,708.9l4.7,4.7M312.3,713.6l4.7,-4.7M309.1,714.3h6.6M312.4,711.0v6.6M310.1,711.9l4.7,4.7M310.1,716.6l4.7,-4.7M315.9,717.3h6.6M319.2,714.0v6.6M316.8,714.9l4.7,4.7M316.8,719.6l4.7,-4.7M323.4,710.5h6.6M326.7,707.2v6.6M324.3,708.2l4.7,4.7M324.3,712.9l4.7,-4.7M324.9,716.5h6.6M328.2,713.2v6.6M325.8,714.2l4.7,4.7M325.8,718.9l4.7,-4.7M333.2,704.5h6.6M336.5,701.2v6.6M334.1,702.2l4.7,4.7M334.1,706.9l4.7,-4.7M336.9,717.3h6.6M340.2,714.0v6.6M337.9,714.9l4.7,4.7M337.9,719.6l4.7,-4.7M339.2,720.3h6.6M342.5,717.0v6.6M340.1,718.0l4.7,4.7M340.1,722.7l4.7,-4.7M342.9,722.6h6.6M346.2,719.3v6.6M343.9,720.2l4.7,4.7M343.9,724.9l4.7,-4.7M321.9,724.8h6.6M325.2,721.5v6.6M322.8,722.5l4.7,4.7M322.8,727.2l4.7,-4.7M325.6,726.3h6.6M328.9,723.0v6.6M326.6,724.0l4.7,4.7M326.6,728.7l4.7,-4.7M329.4,724.8h6.6M332.7,721.5v6.6M330.4,722.5l4.7,4.7M330.4,727.2l4.7,-4.7M330.9,727.8h6.6M334.2,724.5v6.6M331.9,725.5l4.7,4.7M331.9,730.2l4.7,-4.7M315.1,728.6h6.6M318.4,725.3v6.6M316.1,726.2l4.7,4.7M316.1,730.9l4.7,-4.7M312.9,732.3h6.6M316.2,729.0v6.6M313.8,730.0l4.7,4.7M313.8,734.7l4.7,-4.7M313.6,735.3h6.6M316.9,732.0v6.6M314.6,733.0l4.7,4.7M314.6,737.7l4.7,-4.7M316.6,733.8h6.6M319.9,730.5v6.6M317.6,731.5l4.7,4.7M317.6,736.2l4.7,-4.7M320.4,732.3h6.6M323.7,729.0v6.6M321.3,730.0l4.7,4.7M321.3,734.7l4.7,-4.7M324.9,732.3h6.6M328.2,729.0v6.6M325.8,730.0l4.7,4.7M325.8,734.7l4.7,-4.7M327.9,733.8h6.6M331.2,730.5v6.6M328.9,731.5l4.7,4.7M328.9,736.2l4.7,-4.7M330.9,730.8h6.6M334.2,727.5v6.6M331.9,728.5l4.7,4.7M331.9,733.2l4.7,-4.7M334.7,729.3h6.6M338.0,726.0v6.6M335.6,727.0l4.7,4.7M335.6,731.7l4.7,-4.7M315.9,739.8h6.6M319.2,736.5v6.6M316.8,737.5l4.7,4.7M316.8,742.2l4.7,-4.7M318.9,739.1h6.6M322.2,735.8v6.6M319.8,736.7l4.7,4.7M319.8,741.4l4.7,-4.7M312.9,742.1h6.6M316.2,738.8v6.6M313.8,739.8l4.7,4.7M313.8,744.5l4.7,-4.7M339.9,736.1h6.6M343.2,732.8v6.6M340.9,733.7l4.7,4.7M340.9,738.4l4.7,-4.7M329.4,742.1h6.6M332.7,738.8v6.6M330.4,739.8l4.7,4.7M330.4,744.5l4.7,-4.7M332.4,742.9h6.6M335.7,739.6v6.6M333.4,740.5l4.7,4.7M333.4,745.2l4.7,-4.7M336.9,752.6h6.6M340.2,749.3v6.6M337.9,750.3l4.7,4.7M337.9,755.0l4.7,-4.7M342.9,748.1h6.6M346.2,744.8v6.6M343.9,745.8l4.7,4.7M343.9,750.5l4.7,-4.7M345.2,745.1h6.6M348.5,741.8v6.6M346.1,742.8l4.7,4.7M346.1,747.5l4.7,-4.7M341.4,739.1h6.6M344.7,735.8v6.6M342.4,736.7l4.7,4.7M342.4,741.4l4.7,-4.7M281.3,702.3h6.6M284.6,699.0v6.6M282.2,699.9l4.7,4.7M282.2,704.6l4.7,-4.7M321.9,702.3h6.6M325.2,699.0v6.6M322.8,699.9l4.7,4.7M322.8,704.6l4.7,-4.7M324.9,703.0h6.6M328.2,699.7v6.6M325.8,700.7l4.7,4.7M325.8,705.4l4.7,-4.7M296.3,704.5h6.6M299.6,701.2v6.6M297.3,702.2l4.7,4.7M297.3,706.9l4.7,-4.7M291.1,703.0h6.6M294.4,699.7v6.6M292.0,700.7l4.7,4.7M292.0,705.4l4.7,-4.7M336.9,709.0h6.6M340.2,705.7v6.6M337.9,706.7l4.7,4.7M337.9,711.4l4.7,-4.7M353.5,694.5h6.6M356.8,691.2v6.6M354.4,692.2l4.7,4.7M354.4,696.9l4.7,-4.7M358.0,699.0h6.6M361.3,695.7v6.6M358.9,696.7l4.7,4.7M358.9,701.4l4.7,-4.7M355.0,703.5h6.6M358.3,700.2v6.6M355.9,701.2l4.7,4.7M355.9,705.9l4.7,-4.7M361.0,702.8h6.6M364.3,699.5v6.6M361.9,700.4l4.7,4.7M361.9,705.1l4.7,-4.7M369.3,696.0h6.6M372.6,692.7v6.6M370.2,693.7l4.7,4.7M370.2,698.4l4.7,-4.7M370.8,700.5h6.6M374.1,697.2v6.6M371.7,698.2l4.7,4.7M371.7,702.9l4.7,-4.7M350.5,708.0h6.6M353.8,704.7v6.6M351.4,705.7l4.7,4.7M351.4,710.4l4.7,-4.7M355.0,712.6h6.6M358.3,709.3v6.6M355.9,710.2l4.7,4.7M355.9,714.9l4.7,-4.7M358.7,714.1h6.6M362.0,710.8v6.6M359.7,711.7l4.7,4.7M359.7,716.4l4.7,-4.7M366.2,693.0h6.6M369.5,689.7v6.6M367.2,690.7l4.7,4.7M367.2,695.4l4.7,-4.7M387.3,705.8h6.6M390.6,702.5v6.6M388.3,703.4l4.7,4.7M388.3,708.1l4.7,-4.7M349.7,732.9h6.6M353.0,729.6v6.6M350.7,730.5l4.7,4.7M350.7,735.2l4.7,-4.7M366.2,736.6h6.6M369.5,733.3v6.6M367.2,734.3l4.7,4.7M367.2,739.0l4.7,-4.7M370.0,738.9h6.6M373.3,735.6v6.6M371.0,736.5l4.7,4.7M371.0,741.2l4.7,-4.7M371.5,744.1h6.6M374.8,740.8v6.6M372.5,741.8l4.7,4.7M372.5,746.5l4.7,-4.7M382.0,742.6h6.6M385.3,739.3v6.6M383.0,740.3l4.7,4.7M383.0,745.0l4.7,-4.7M384.3,744.1h6.6M387.6,740.8v6.6M385.2,741.8l4.7,4.7M385.2,746.5l4.7,-4.7M380.5,731.4h6.6M383.8,728.1v6.6M381.5,729.0l4.7,4.7M381.5,733.7l4.7,-4.7M388.8,732.1h6.6M392.1,728.8v6.6M389.8,729.8l4.7,4.7M389.8,734.5l4.7,-4.7M403.1,735.1h6.6M406.4,731.8v6.6M404.0,732.8l4.7,4.7M404.0,737.5l4.7,-4.7M394.1,737.4h6.6M397.4,734.1v6.6M395.0,735.0l4.7,4.7M395.0,739.7l4.7,-4.7M351.2,750.9h6.6M354.5,747.6v6.6M352.2,748.6l4.7,4.7M352.2,753.3l4.7,-4.7M370.0,754.7h6.6M373.3,751.4v6.6M371.0,752.3l4.7,4.7M371.0,757.0l4.7,-4.7M365.5,762.9h6.6M368.8,759.6v6.6M366.4,760.6l4.7,4.7M366.4,765.3l4.7,-4.7M369.3,760.7h6.6M372.6,757.4v6.6M370.2,758.3l4.7,4.7M370.2,763.0l4.7,-4.7M373.8,758.4h6.6M377.1,755.1v6.6M374.7,756.1l4.7,4.7M374.7,760.8l4.7,-4.7M346.7,784.0h6.6M350.0,780.7v6.6M347.6,781.6l4.7,4.7M347.6,786.3l4.7,-4.7M371.8,641.4h6.6M375.1,638.1v6.6M372.8,639.1l4.7,4.7M372.8,643.8l4.7,-4.7M344.8,651.1h6.6M348.1,647.8v6.6M345.7,648.7l4.7,4.7M345.7,653.4l4.7,-4.7M359.8,655.3h6.6M363.1,652.0v6.6M360.7,652.9l4.7,4.7M360.7,657.6l4.7,-4.7M366.4,658.3h6.6M369.7,655.0v6.6M367.4,655.9l4.7,4.7M367.4,660.6l4.7,-4.7M329.1,655.9h6.6M332.4,652.6v6.6M330.1,653.5l4.7,4.7M330.1,658.2l4.7,-4.7M336.9,661.9h6.6M340.2,658.6v6.6M337.9,659.5l4.7,4.7M337.9,664.2l4.7,-4.7M374.2,666.1h6.6M377.5,662.8v6.6M375.2,663.8l4.7,4.7M375.2,668.5l4.7,-4.7M332.1,670.3h6.6M335.4,667.0v6.6M333.1,668.0l4.7,4.7M333.1,672.7l4.7,-4.7M371.2,670.3h6.6M374.5,667.0v6.6M372.2,668.0l4.7,4.7M372.2,672.7l4.7,-4.7M362.8,672.7h6.6M366.1,669.4v6.6M363.8,670.4l4.7,4.7M363.8,675.1l4.7,-4.7M329.7,673.9h6.6M333.0,670.6v6.6M330.7,671.6l4.7,4.7M330.7,676.3l4.7,-4.7M359.2,678.1h6.6M362.5,674.8v6.6M360.1,675.8l4.7,4.7M360.1,680.5l4.7,-4.7M391.1,684.2h6.6M394.4,680.9v6.6M392.0,681.8l4.7,4.7M392.0,686.5l4.7,-4.7M347.8,682.9h6.6M351.1,679.6v6.6M348.7,680.6l4.7,4.7M348.7,685.3l4.7,-4.7M350.8,686.6h6.6M354.1,683.3v6.6M351.7,684.2l4.7,4.7M351.7,688.9l4.7,-4.7M344.8,687.8h6.6M348.1,684.5v6.6M345.7,685.4l4.7,4.7M345.7,690.1l4.7,-4.7M352.6,691.4h6.6M355.9,688.1v6.6M353.5,689.0l4.7,4.7M353.5,693.7l4.7,-4.7M337.5,692.0h6.6M340.8,688.7v6.6M338.5,689.6l4.7,4.7M338.5,694.3l4.7,-4.7M355.0,695.6h6.6M358.3,692.3v6.6M355.9,693.2l4.7,4.7M355.9,697.9l4.7,-4.7M379.0,699.2h6.6M382.3,695.9v6.6M380.0,696.8l4.7,4.7M380.0,701.5l4.7,-4.7M397.1,695.6h6.6M400.4,692.3v6.6M398.0,693.2l4.7,4.7M398.0,697.9l4.7,-4.7M330.3,702.2h6.6M333.6,698.9v6.6M331.3,699.9l4.7,4.7M331.3,704.6l4.7,-4.7M338.7,704.0h6.6M342.0,700.7v6.6M339.7,701.7l4.7,4.7M339.7,706.4l4.7,-4.7M352.6,702.2h6.6M355.9,698.9v6.6M353.5,699.9l4.7,4.7M353.5,704.6l4.7,-4.7M358.0,703.4h6.6M361.3,700.1v6.6M358.9,701.1l4.7,4.7M358.9,705.8l4.7,-4.7M386.3,704.0h6.6M389.6,700.7v6.6M387.2,701.7l4.7,4.7M387.2,706.4l4.7,-4.7M342.3,692.6h6.6M345.6,689.3v6.6M343.3,690.2l4.7,4.7M343.3,694.9l4.7,-4.7M328.5,693.8h6.6M331.8,690.5v6.6M329.5,691.4l4.7,4.7M329.5,696.1l4.7,-4.7M302.9,627.3h6.6M306.2,624.0v6.6M303.8,624.9l4.7,4.7M303.8,629.6l4.7,-4.7" stroke="#82B8BE" stroke-width="1.0" fill="none"/>
<path d="M310.8,636.0h8.8l-4.4,-7.6z" fill="#965F91"/>
<rect x="393.6" y="660.0" width="7.6" height="7.6" fill="#82925F"/>
<path d="M331.3,703.5h10.4M336.5,698.3v10.4M332.8,699.8l7.4,7.4M332.8,707.2l7.4,-7.4" stroke="#82B8BE" stroke-width="0.9" fill="none"/>
<polygon points="227.8,638.0 255.5,650.1 289.5,732.8 176.1,834.7 154.1,827.5 120.5,795.9 124.7,777.0 179.1,678.6" fill="#E4C58B" fill-opacity="0.2" stroke="#E4C58B" stroke-width="1.15" stroke-linejoin="round"/>
<polygon points="323.8,524.1 359.3,530.6 388.2,578.8 386.1,615.6 354.0,673.7 288.6,714.8 253.4,681.7 236.4,643.3 272.4,557.4 286.5,545.2" fill="#965F91" fill-opacity="0.2" stroke="#965F91" stroke-width="1.15" stroke-linejoin="round"/>
<polygon points="374.9,575.7 410.9,594.4 492.7,661.5 427.2,734.6 359.5,734.6 327.9,675.8" fill="#82925F" fill-opacity="0.2" stroke="#82925F" stroke-width="1.15" stroke-linejoin="round"/>
<polygon points="324.9,743.1 410.4,695.7 446.2,713.0 445.4,732.8 441.3,757.2 429.9,796.4 392.0,834.8 365.8,841.1" fill="#B84759" fill-opacity="0.2" stroke="#B84759" stroke-width="1.15" stroke-linejoin="round"/>
<polygon points="471.0,601.1 503.5,607.9 509.2,616.3 474.0,645.3" fill="#2A6985" fill-opacity="0.2" stroke="#2A6985" stroke-width="1.15" stroke-linejoin="round"/>
<polygon points="306.2,627.3 404.1,638.5 406.0,734.3 348.3,782.8 333.0,789.0 319.4,786.3 301.4,768.3 262.0,718.6 254.8,688.3" fill="#82B8BE" fill-opacity="0.2" stroke="#82B8BE" stroke-width="1.15" stroke-linejoin="round"/>
<rect x="101.5" y="509.1" width="427.0" height="347.4" fill="none" stroke="#4d4d4d" stroke-width="1"/>
<line x1="140.60" x2="140.60" y1="850.0" y2="856.5" stroke="#4d4d4d" stroke-width="1"/>
<text x="140.60" y="876.8" text-anchor="middle" class="t13">-5.0</text>
<line x1="237.73" x2="237.73" y1="850.0" y2="856.5" stroke="#4d4d4d" stroke-width="1"/>
<text x="237.73" y="876.8" text-anchor="middle" class="t13">-2.5</text>
<line x1="334.85" x2="334.85" y1="850.0" y2="856.5" stroke="#4d4d4d" stroke-width="1"/>
<text x="334.85" y="876.8" text-anchor="middle" class="t13">0.0</text>
<line x1="431.98" x2="431.98" y1="850.0" y2="856.5" stroke="#4d4d4d" stroke-width="1"/>
<text x="431.98" y="876.8" text-anchor="middle" class="t13">2.5</text>
<line y1="515.00" y2="515.00" x1="101.5" x2="108.0" stroke="#4d4d4d" stroke-width="1"/>
<text x="90" y="514.9" text-anchor="end" class="t13">4</text>
<line y1="603.20" y2="603.20" x1="101.5" x2="108.0" stroke="#4d4d4d" stroke-width="1"/>
<text x="90" y="603.1" text-anchor="end" class="t13">2</text>
<line y1="691.40" y2="691.40" x1="101.5" x2="108.0" stroke="#4d4d4d" stroke-width="1"/>
<text x="90" y="691.3" text-anchor="end" class="t13">0</text>
<line y1="779.60" y2="779.60" x1="101.5" x2="108.0" stroke="#4d4d4d" stroke-width="1"/>
<text x="90" y="779.5" text-anchor="end" class="t13">-2</text>
<circle cx="2.0" cy="776.2" r="2.25" fill="#E4C58B"/>
<text x="61.4" y="10" class="t13" textLength="139" lengthAdjust="spacing" style="white-space:pre">2a)  Dimensions 1 and 2</text>
<text x="61.4" y="478.2" class="t13" textLength="136" lengthAdjust="spacing">2b) Dimensions 1 and 3</text>
<text x="546.7" y="408.8" class="t13" textLength="118" lengthAdjust="spacing">Dimension 1 (24.5%)</text>
<text x="546.7" y="877.6" class="t13" textLength="118" lengthAdjust="spacing">Dimension 1 (24.5%)</text>
<text transform="translate(60.2,388.5) rotate(-90)" class="t13" textLength="118" lengthAdjust="spacing">Dimension 2 (15.9%)</text>
<text transform="translate(60.2,856.5) rotate(-90)" class="t13" textLength="118" lengthAdjust="spacing">Dimension 3 (12.9%)</text>
<text x="545.8" y="54.9" class="t16" textLength="49" lengthAdjust="spacing">Cluster</text>
<rect x="548.3" y="73.0" width="17" height="17" fill="#E4C58B" fill-opacity="0.2" stroke="#E4C58B" stroke-opacity="0.55" stroke-width="1"/>
<circle cx="556.8" cy="81.5" r="3.5" fill="#E4C58B"/>
<text x="576.8" y="86.7" class="t16">1</text>
<rect x="548.3" y="105.7" width="17" height="17" fill="#965F91" fill-opacity="0.2" stroke="#965F91" stroke-opacity="0.8" stroke-width="1"/>
<path d="M551.8,117.9h10l-5,-8.6z" fill="#965F91"/>
<text x="576.8" y="119.4" class="t16">2</text>
<rect x="548.3" y="138.4" width="17" height="17" fill="#82925F" fill-opacity="0.2" stroke="#82925F" stroke-opacity="0.8" stroke-width="1"/>
<rect x="553.1999999999999" y="143.3" width="7.2" height="7.2" fill="#82925F"/>
<text x="576.8" y="152.1" class="t16">3</text>
<rect x="548.3" y="171.1" width="17" height="17" fill="#B84759" fill-opacity="0.2" stroke="#B84759" stroke-opacity="0.8" stroke-width="1"/>
<path d="M551.8,179.60000000000002h10M556.8,174.60000000000002v10" stroke="#B84759" stroke-width="1" fill="none"/>
<text x="576.8" y="184.8" class="t16">4</text>
<rect x="548.3" y="203.8" width="17" height="17" fill="#2A6985" fill-opacity="0.2" stroke="#2A6985" stroke-opacity="0.8" stroke-width="1"/>
<path d="M553.1999999999999,208.70000000000002h7.2v7.2h-7.2zM553.1999999999999,208.70000000000002l7.2,7.2M553.1999999999999,215.9l7.2,-7.2" stroke="#2A6985" stroke-width="1" fill="none"/>
<text x="576.8" y="217.5" class="t16">5</text>
<rect x="548.3" y="236.5" width="17" height="17" fill="#82B8BE" fill-opacity="0.2" stroke="#82B8BE" stroke-opacity="0.55" stroke-width="1"/>
<path d="M551.8,245.0h10M556.8,240.0v10M553.3,241.5l7.0,7.0M553.3,248.5l7.0,-7.0" stroke="#82B8BE" stroke-width="0.8" fill="none"/>
<text x="576.8" y="250.2" class="t16">6</text>
<text x="545.8" y="521.3" class="t16" textLength="49" lengthAdjust="spacing">Cluster</text>
<rect x="548.3" y="539.4" width="17" height="17" fill="#E4C58B" fill-opacity="0.2" stroke="#E4C58B" stroke-opacity="0.55" stroke-width="1"/>
<circle cx="556.8" cy="547.9" r="3.5" fill="#E4C58B"/>
<text x="576.8" y="553.1" class="t16">1</text>
<rect x="548.3" y="572.1" width="17" height="17" fill="#965F91" fill-opacity="0.2" stroke="#965F91" stroke-opacity="0.8" stroke-width="1"/>
<path d="M551.8,584.3000000000001h10l-5,-8.6z" fill="#965F91"/>
<text x="576.8" y="585.8" class="t16">2</text>
<rect x="548.3" y="604.8" width="17" height="17" fill="#82925F" fill-opacity="0.2" stroke="#82925F" stroke-opacity="0.8" stroke-width="1"/>
<rect x="553.1999999999999" y="609.6999999999999" width="7.2" height="7.2" fill="#82925F"/>
<text x="576.8" y="618.5" class="t16">3</text>
<rect x="548.3" y="637.5" width="17" height="17" fill="#B84759" fill-opacity="0.2" stroke="#B84759" stroke-opacity="0.8" stroke-width="1"/>
<path d="M551.8,646.0h10M556.8,641.0v10" stroke="#B84759" stroke-width="1" fill="none"/>
<text x="576.8" y="651.2" class="t16">4</text>
<rect x="548.3" y="670.2" width="17" height="17" fill="#2A6985" fill-opacity="0.2" stroke="#2A6985" stroke-opacity="0.8" stroke-width="1"/>
<path d="M553.1999999999999,675.1h7.2v7.2h-7.2zM553.1999999999999,675.1l7.2,7.2M553.1999999999999,682.3000000000001l7.2,-7.2" stroke="#2A6985" stroke-width="1" fill="none"/>
<text x="576.8" y="683.9" class="t16">5</text>
<rect x="548.3" y="702.9" width="17" height="17" fill="#82B8BE" fill-opacity="0.2" stroke="#82B8BE" stroke-opacity="0.55" stroke-width="1"/>
<path d="M551.8,711.4h10M556.8,706.4v10M553.3,707.9l7.0,7.0M553.3,714.9l7.0,-7.0" stroke="#82B8BE" stroke-width="0.8" fill="none"/>
<text x="576.8" y="716.6" class="t16">6</text>
</svg>
</body></html>
